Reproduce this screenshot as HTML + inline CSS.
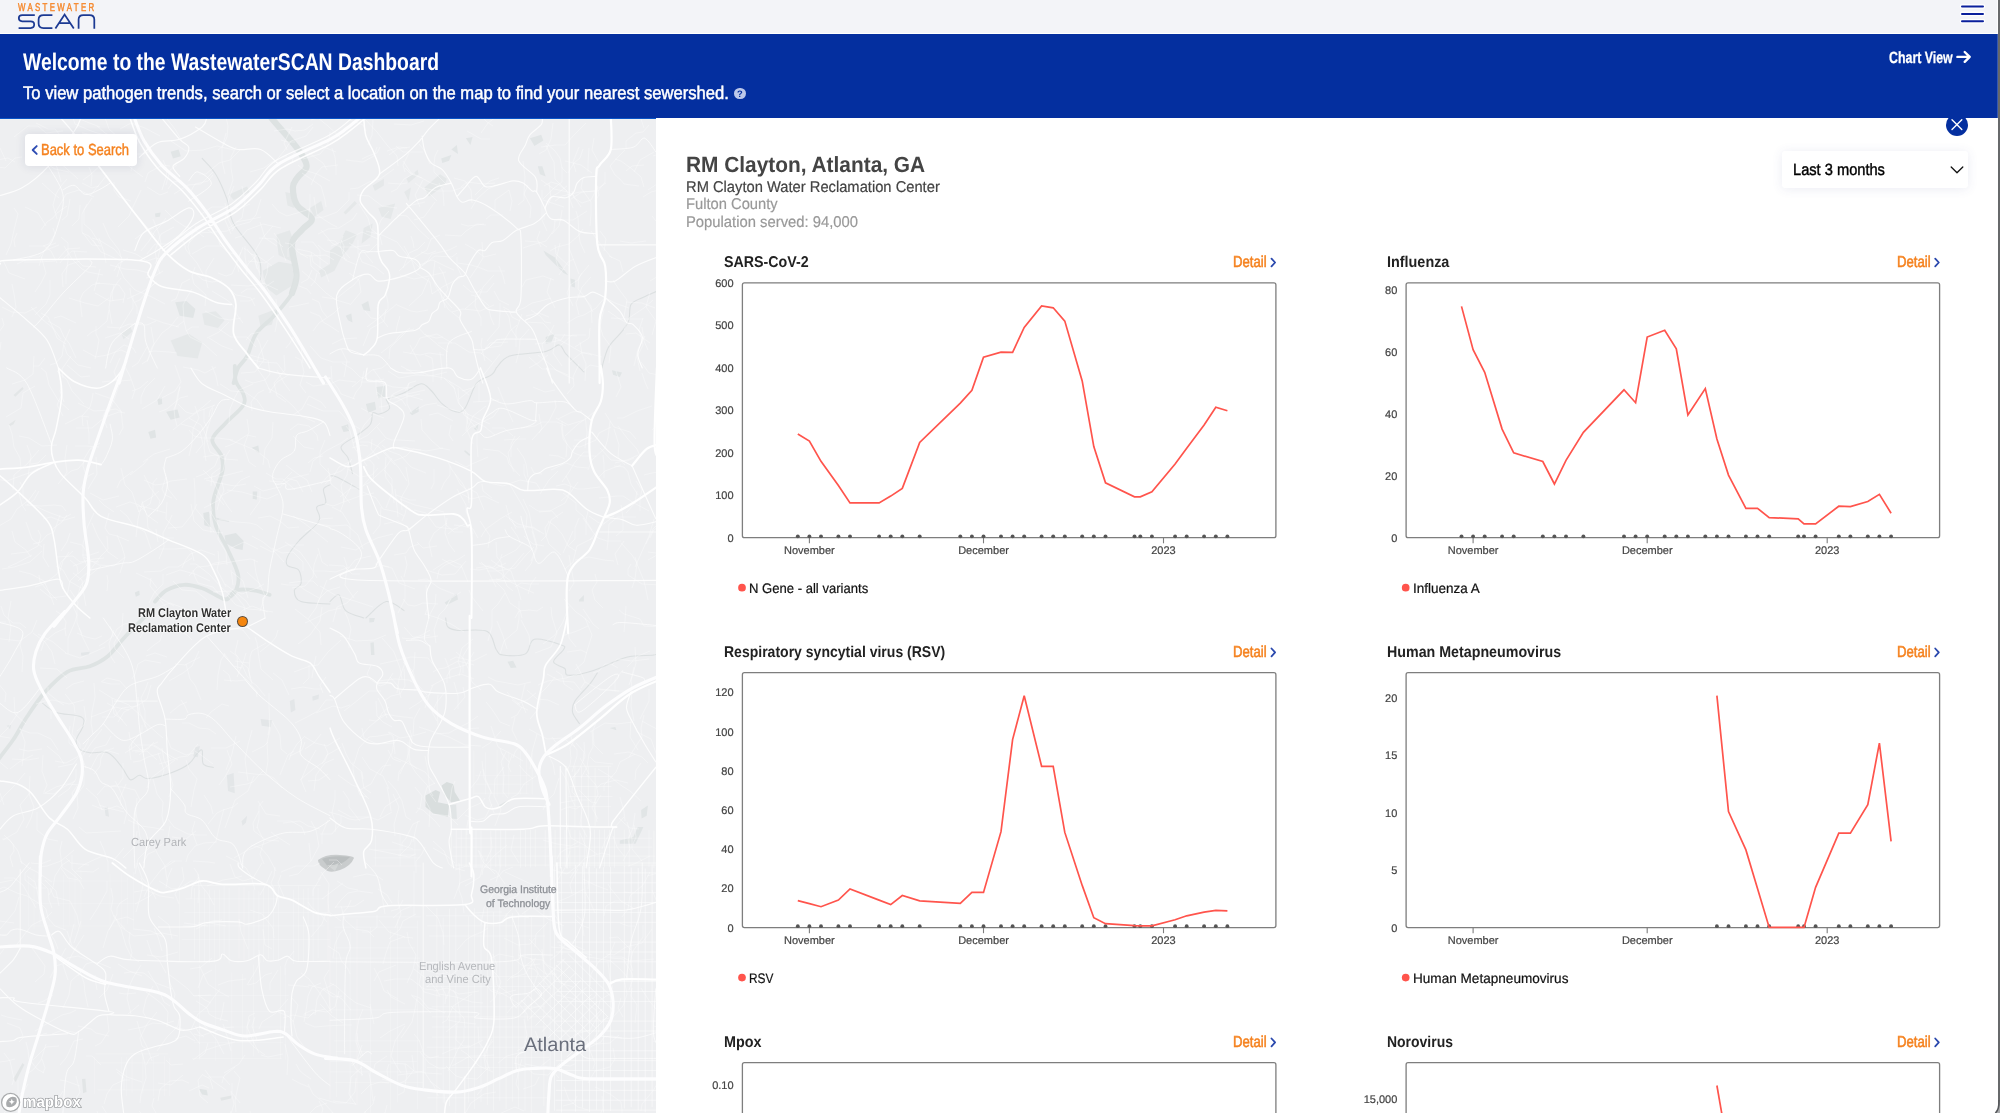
<!DOCTYPE html>
<html lang="en">
<head>
<meta charset="utf-8">
<title>WastewaterSCAN Dashboard</title>
<style>
html,body{margin:0;padding:0;}
body{width:2000px;height:1113px;overflow:hidden;position:relative;background:#fff;font-family:"Liberation Sans",sans-serif;text-rendering:geometricPrecision;}
.t{position:absolute;white-space:nowrap;line-height:1;transform-origin:0 50%;display:block;}
#root{position:absolute;left:0;top:0;width:2000px;height:1113px;overflow:hidden;will-change:transform;opacity:.9999;}
.abs{position:absolute;}
svg{position:absolute;left:0;top:0;overflow:visible;}
</style>
</head>
<body>
<div id="root">
<div class="abs" style="left:0;top:118px;width:656px;height:995px;background:#eeeff1;"></div>
<svg width="656" height="1113" viewBox="0 0 656 1113" style="clip-path:inset(119px 0 0 0)"><path d="M229.1 194.4 L247.1 186.5 L249.4 192.1 L233.6 200.0Z" fill="#e5e8e9"/>
<path d="M276.3 234.8 L289.8 230.3 L294.3 243.8 L292.0 261.8 L278.6 255.0Z" fill="#e5e8e9"/>
<path d="M262.8 270.8 L278.6 261.8 L292.0 264.0 L294.3 284.2 L276.3 295.5 L265.1 286.5Z" fill="#e5e8e9"/>
<path d="M285.3 192.1 L296.5 194.4 L294.3 207.9 L287.5 205.6Z" fill="#e5e8e9"/>
<path d="M310.0 207.9 L321.2 201.1 L323.5 210.1 L314.5 216.8Z" fill="#e5e8e9"/>
<path d="M319.0 270.8 L330.0 264.0 L330.0 273.0 L321.2 277.5Z" fill="#e5e8e9"/>
<path d="M170.7 340.4 L188.7 333.7 L202.2 342.6 L197.7 358.4 L177.5 356.1Z" fill="#e5e8e9"/>
<path d="M175.2 302.2 L186.5 301.1 L195.4 308.9 L193.2 317.9 L179.7 315.7Z" fill="#e1e5e6"/>
<path d="M202.2 313.4 L215.7 311.2 L224.6 320.2 L217.9 328.0 L204.4 324.7Z" fill="#e5e8e9"/>
<path d="M170.7 151.7 L178.6 149.5 L180.8 156.2 L173.0 158.4Z" fill="#e1e5e6"/>
<path d="M155.0 213.5 L160.6 212.4 L159.9 216.8 L155.5 217.3Z" fill="#e1e5e6"/>
<path d="M258.3 315.7 L276.3 308.9 L271.8 324.7 L260.6 326.9Z" fill="#e5e8e9"/>
<path d="M121.3 333.7 L130.3 326.9 L132.5 331.4 L123.6 339.3Z" fill="#e5e8e9"/>
<path d="M330.0 250.5 L339.0 243.8 L345.7 230.3 L357.0 234.8 L352.5 243.8 L341.2 257.3 L334.5 270.8 L330.0 273.0Z" fill="#e5e8e9"/>
<path d="M363.7 228.1 L372.7 223.6 L370.4 237.1 L361.5 243.8Z" fill="#e5e8e9"/>
<path d="M378.3 207.9 L395.1 203.4 L390.7 219.1 L381.7 216.8Z" fill="#e5e8e9"/>
<path d="M404.1 192.1 L410.9 187.6 L408.6 201.1Z" fill="#e5e8e9"/>
<path d="M424.4 187.6 L440.1 174.2 L446.8 178.7 L444.6 185.4 L428.8 196.6Z" fill="#e5e8e9"/>
<path d="M343.5 212.4 L354.7 201.1 L357.0 203.4 L345.7 214.6Z" fill="#e5e8e9"/>
<path d="M372.7 185.4 L383.9 178.7 L383.9 185.4 L374.9 191.0Z" fill="#e5e8e9"/>
<path d="M406.4 178.7 L417.6 169.7 L418.7 174.2 L408.6 183.1Z" fill="#e5e8e9"/>
<path d="M529.9 138.2 L541.2 134.8 L543.4 140.5 L534.4 146.1Z" fill="#e1e5e6"/>
<path d="M537.8 166.3 L542.3 166.3 L545.7 176.4 L540.0 174.2Z" fill="#e1e5e6"/>
<path d="M441.2 158.4 L451.3 155.1 L449.1 160.7 L442.3 162.9Z" fill="#e1e5e6"/>
<path d="M451.3 149.5 L456.9 145.0 L458.0 153.9Z" fill="#e1e5e6"/>
<path d="M465.9 138.2 L472.6 137.1 L470.4 145.0Z" fill="#e1e5e6"/>
<path d="M543.4 250.5 L554.6 257.3 L568.1 275.3 L563.6 273.0 L545.7 255.0Z" fill="#e1e5e6"/>
<path d="M361.5 304.5 L368.2 301.1 L370.4 311.2 L363.7 310.1Z" fill="#e1e5e6"/>
<path d="M345.7 315.7 L351.3 313.4 L352.5 322.4 L348.0 320.2Z" fill="#e1e5e6"/>
<path d="M545.7 337.0 L554.6 333.7 L551.3 342.6 L545.7 343.8Z" fill="#e1e5e6"/>
<path d="M570.4 278.6 L574.9 279.7 L574.9 287.6 L571.5 286.5Z" fill="#e1e5e6"/>
<path d="M166.2 411.8 L177.5 409.6 L179.7 417.4 L170.7 419.7Z" fill="#e0e4e5"/>
<path d="M148.3 432.0 L155.0 429.8 L156.1 437.6 L150.5 438.8Z" fill="#e0e4e5"/>
<path d="M224.6 535.4 L235.9 533.1 L243.7 541.0 L242.6 550.0 L235.9 548.8 L225.8 543.2Z" fill="#e0e4e5"/>
<path d="M203.3 512.9 L208.9 511.8 L211.2 527.5 L204.4 525.3Z" fill="#e0e4e5"/>
<path d="M157.3 399.5 L161.7 397.2 L162.2 403.9 L158.4 405.1Z" fill="#e0e4e5"/>
<path d="M251.6 447.7 L258.3 445.5 L259.5 453.4Z" fill="#e0e4e5"/>
<path d="M134.8 592.6 L139.3 590.4 L139.7 594.9 L135.9 596.7Z" fill="#e0e4e5"/>
<path d="M252.7 491.6 L257.2 491.6 L256.8 499.4 L252.7 499.0Z" fill="#e0e4e5"/>
<path d="M215.7 517.4 L229.1 520.8 L229.1 522.1 L216.8 519.6Z" fill="#e0e4e5"/>
<path d="M9.0 424.2 L15.7 419.7 L13.5 424.2 L10.1 426.0Z" fill="#e3e6e7"/>
<path d="M13.5 395.0 L22.5 387.1 L23.6 388.7 L15.3 396.8Z" fill="#e3e6e7"/>
<path d="M376.1 387.1 L385.0 386.0 L385.0 397.2 L378.3 398.3Z" fill="#e1e5e6"/>
<path d="M365.9 403.9 L374.9 401.7 L376.1 409.6 L368.2 412.9Z" fill="#e1e5e6"/>
<path d="M341.2 426.4 L348.0 424.2 L349.1 430.9 L343.5 432.0Z" fill="#e1e5e6"/>
<path d="M409.7 412.9 L418.7 406.2 L418.7 411.8 L412.0 415.2Z" fill="#e1e5e6"/>
<path d="M473.8 428.7 L478.3 424.2 L477.1 430.9Z" fill="#e1e5e6"/>
<path d="M464.8 450.0 L470.4 454.5 L469.3 456.1 L464.3 451.6Z" fill="#e1e5e6"/>
<path d="M611.9 370.2 L622.0 372.5 L619.8 377.0 L613.1 374.7Z" fill="#e1e5e6"/>
<path d="M579.4 599.4 L583.8 594.9 L583.8 601.6 L578.9 601.6Z" fill="#e1e5e6"/>
<path d="M444.6 602.8 L456.9 593.8 L458.0 599.4 L446.8 605.0Z" fill="#e1e5e6"/>
<path d="M226.9 775.3 L233.6 773.0 L234.8 793.2 L228.0 791.0Z" fill="#e3e6e8"/>
<path d="M195.4 747.2 L199.9 746.0 L197.7 757.3 L193.2 756.2Z" fill="#e3e6e8"/>
<path d="M260.6 719.1 L271.8 720.2 L270.7 727.0 L261.7 725.8Z" fill="#e3e6e8"/>
<path d="M80.9 652.8 L89.9 651.7 L88.7 655.1 L81.3 655.7Z" fill="#e3e6e8"/>
<path d="M241.5 821.3 L247.1 815.7 L246.0 822.4 L242.6 825.8Z" fill="#e3e6e8"/>
<path d="M104.5 807.8 L107.8 806.7 L109.0 816.8 L105.6 815.7Z" fill="#e3e6e8"/>
<path d="M289.8 701.1 L294.3 698.9 L295.4 710.1 L290.9 712.4Z" fill="#e3e6e8"/>
<path d="M312.3 696.6 L319.0 694.4 L318.5 698.9 L312.7 700.7Z" fill="#e3e6e8"/>
<path d="M6.7 725.8 L11.2 724.7 L10.1 729.2Z" fill="#e3e6e8"/>
<path d="M425.5 795.5 L435.6 789.9 L440.1 792.1 L437.8 802.2 L449.1 804.5 L447.9 816.8 L433.3 813.4 L425.5 806.7Z" fill="#d9dede"/>
<path d="M441.6 785.4 L446.8 782.0 L453.6 784.2 L454.7 792.1 L460.3 801.1 L451.3 802.2 L444.6 795.5Z" fill="#d9dede"/>
<path d="M450.2 804.9 L456.2 804.5 L456.9 819.1 L450.6 818.6Z" fill="#e1e5e6"/>
<path d="M507.5 661.8 L513.1 660.7 L516.5 667.4 L510.8 667.9Z" fill="#e1e5e6"/>
<path d="M641.1 810.1 L647.9 805.6 L646.7 815.7 L641.6 818.4Z" fill="#e1e5e6"/>
<path d="M619.8 840.4 L633.3 837.0 L637.8 826.9 L643.4 826.9 L635.5 843.8 L619.8 843.8Z" fill="#e1e5e6"/>
<path d="M370.4 642.7 L373.8 642.3 L374.5 655.1 L371.1 655.1Z" fill="#e1e5e6"/>
<path d="M498.5 805.6 L507.5 800.4 L508.6 802.2 L500.7 807.8Z" fill="#e1e5e6"/>
<path d="M369.3 618.0 L374.9 618.0 L373.8 622.0 L369.3 622.5Z" fill="#e1e5e6"/>
<path d="M609.7 728.1 L615.3 727.0 L616.4 730.3Z" fill="#e1e5e6"/>
<path d="M318 860q8-6 22-5t14 3q-3 8-14 12t-15-1q-7-4-7-9z" fill="#c9cccd"/>
<path d="M322 859q10-4 28-2q-6 6-14 9t-10-2z" fill="#b4b9ba" opacity=".75"/>
<path d="M327 865q6 1 12-2l-4 8z" fill="#d7dada" opacity=".8"/>
<path d="M13.5 1078.7 L22.5 1062.9 L24.3 1064.7 L15.7 1082.0Z" fill="#e2e5e6"/>
<path d="M82.0 1079.1 L85.4 1078.7 L86.5 1092.1 L83.1 1093.3Z" fill="#e2e5e6"/>
<path d="M198.8 1088.8 L206.7 1089.9 L207.8 1095.5 L202.2 1094.4Z" fill="#e0e4e5"/>
<path d="M220.2 1097.8 L231.4 1095.5 L230.9 1098.4 L221.3 1100.7Z" fill="#e2e5e6"/>
<path d="M269.6 114.6C270.1 115.5 268.6 114.6 272.7 119.6C276.8 124.6 289.1 138.1 294.3 144.5C299.4 150.9 301.7 154.2 303.7 158.0C305.7 161.8 307.5 164.1 306.4 167.4C305.3 170.8 299.2 174.8 297.0 178.2C294.7 181.6 292.9 183.1 292.9 187.6C292.9 192.1 293.8 200.0 297.0 205.2C300.1 210.3 310.9 214.6 311.8 218.6C312.7 222.7 305.7 225.2 302.4 229.4C299.1 233.6 293.0 236.2 292.0 243.8C291.1 251.4 296.5 267.0 296.5 275.3C296.5 283.5 292.8 290.2 292.0 293.2" fill="none" stroke="#dde2e2" stroke-width="6.2" stroke-opacity="1.0" stroke-linejoin="round" stroke-linecap="round"/>
<path d="M296.5 275.3C295.8 278.2 295.8 286.5 292.0 293.2C288.3 300.0 280.1 308.9 274.1 315.7C268.1 322.4 260.6 326.9 256.1 333.7C251.6 340.4 250.1 350.4 247.1 356.1C244.1 361.9 240.4 363.5 238.1 368.0C235.9 372.5 234.4 380.6 233.6 383.1M234.8 365.8C234.9 368.4 234.4 376.6 235.9 381.5C237.4 386.3 242.6 390.8 243.7 395.0C244.9 399.1 245.8 401.3 242.6 406.2C239.4 411.1 229.7 418.5 224.6 424.2C219.6 429.8 212.8 434.6 212.3 439.9C211.7 445.1 219.6 450.4 221.3 455.6C223.0 460.9 223.7 463.8 222.4 471.3C221.1 478.8 214.5 491.6 213.4 500.5C212.3 509.5 213.4 517.4 215.7 525.3C217.9 533.1 223.1 539.5 226.9 547.7C230.6 556.0 236.6 567.6 238.1 574.7C239.6 581.8 237.7 586.3 235.9 590.4C234.0 594.5 228.4 597.9 226.9 599.4M155.0 601.6C156.9 599.8 161.4 593.2 166.2 590.4C171.1 587.6 178.2 585.2 184.2 584.8C190.2 584.4 196.9 586.5 202.2 588.2C207.4 589.8 211.5 593.0 215.7 594.9C219.8 596.8 223.5 600.1 226.9 599.4C230.3 598.6 231.4 591.9 235.9 590.4C240.4 588.9 248.2 589.6 253.8 590.4C259.5 591.1 267.0 594.1 269.6 594.9M148.3 613.5C144.5 617.3 132.5 628.9 125.8 636.0C119.1 643.1 113.8 651.1 107.8 656.2C101.8 661.2 96.6 663.7 89.9 666.3C83.1 668.9 74.9 667.6 67.4 671.9C59.9 676.2 51.7 684.6 44.9 692.1C38.2 699.6 32.2 709.0 27.0 716.8C21.7 724.7 18.0 732.6 13.5 739.3C9.0 746.0 3.0 753.2 0.0 757.3C-3.0 761.4 -3.7 762.9 -4.5 764.0" fill="none" stroke="#dee3e3" stroke-width="3.8" stroke-opacity="1.0" stroke-linejoin="round" stroke-linecap="round"/>
<path d="M202.2 158.4C204.4 161.1 211.5 167.4 215.7 174.2C219.8 180.9 223.9 190.6 226.9 198.9C229.9 207.1 228.4 213.8 233.6 223.6C238.9 233.3 253.8 247.9 258.3 257.3C262.8 266.6 260.2 276.0 260.6 279.7M496.2 368.0C498.5 366.0 501.5 358.9 509.7 356.1C518.0 353.4 537.4 353.5 545.7 351.6C553.9 349.8 555.8 344.5 559.1 344.9C562.5 345.3 562.9 350.5 565.9 353.9C568.9 357.2 574.1 362.1 577.1 365.1C580.1 368.1 582.7 370.7 583.8 371.8M660.0 289.9C657.0 291.2 647.1 295.3 642.3 297.7C637.4 300.1 633.3 300.7 631.0 304.5C628.8 308.2 630.3 315.7 628.8 320.2C627.3 324.7 625.4 326.9 622.0 331.4C618.7 335.9 611.9 341.0 608.6 347.1C605.2 353.2 602.9 364.5 601.8 368.0M330.0 484.8C328.9 485.6 324.2 486.3 323.5 489.3C322.8 492.3 326.9 499.8 325.7 502.8C324.6 505.8 317.9 504.3 316.7 507.3C315.6 510.3 322.0 515.1 319.0 520.8C316.0 526.4 304.0 535.0 298.8 541.0C293.5 547.0 289.4 552.6 287.5 556.7C285.7 560.8 285.7 563.4 287.5 565.7C289.4 567.9 296.5 567.2 298.8 570.2C301.0 573.2 301.8 580.3 301.0 583.7C300.3 587.0 294.3 587.4 294.3 590.4C294.3 593.4 295.1 599.4 301.0 601.6C307.0 603.9 325.2 603.5 330.0 603.9M386.2 399.5C389.2 398.3 398.3 395.3 404.1 392.7C409.9 390.1 416.5 384.1 421.0 383.7C425.5 383.4 427.5 387.1 431.1 390.5C434.6 393.8 438.2 400.4 442.3 403.9C446.4 407.5 452.1 411.1 455.8 411.8C459.5 412.6 461.8 412.4 464.8 408.4C467.8 404.5 471.5 392.7 473.8 388.2C476.0 383.7 475.3 383.7 478.3 381.5C481.3 379.2 488.7 377.0 491.7 374.7C494.7 372.5 495.5 369.1 496.2 368.0M330.0 475.8C331.1 476.0 331.9 474.7 336.7 477.0C341.6 479.2 355.5 487.2 359.2 489.3M386.2 399.5C386.7 400.9 390.7 406.0 389.5 408.4C388.4 410.9 382.2 413.3 379.4 414.1C376.6 414.8 374.2 411.2 372.7 412.9C371.2 414.6 373.1 420.4 370.4 424.2C367.8 427.9 361.8 431.6 357.0 435.4C352.1 439.1 342.7 442.9 341.2 446.6C339.7 450.4 346.1 453.4 348.0 457.9C349.8 462.4 351.7 471.0 352.5 473.6M330.0 601.6C331.5 600.5 336.4 593.4 339.0 594.9C341.6 596.4 341.6 606.8 345.7 610.6C349.8 614.5 360.7 616.8 363.7 618.0M365.9 618.0C369.3 615.3 379.8 602.9 386.2 601.6C392.5 600.4 401.1 609.1 404.1 610.6M42.7 703.4C44.9 704.9 49.8 710.1 56.2 712.4C62.5 714.6 76.4 714.6 80.9 716.8C85.4 719.1 83.9 722.1 83.1 725.8C82.4 729.6 77.1 735.6 76.4 739.3C75.6 743.1 76.4 746.0 78.6 748.3C80.9 750.5 85.0 752.0 89.9 752.8C94.7 753.5 102.6 750.5 107.8 752.8C113.1 755.0 117.6 761.8 121.3 766.3C125.1 770.8 127.3 778.2 130.3 779.7C133.3 781.2 136.3 775.4 139.3 775.3C142.3 775.1 143.0 779.0 148.3 778.6C153.5 778.2 164.0 775.4 170.7 773.0C177.5 770.6 184.2 767.4 188.7 764.0C193.2 760.6 195.4 755.0 197.7 752.8C199.9 750.5 201.2 748.7 202.2 750.5C203.1 752.4 201.4 761.2 203.3 764.0C205.2 766.8 211.7 766.8 213.4 767.4M445.7 618.0C446.1 619.5 445.9 624.9 447.9 627.0C450.0 629.0 451.5 629.6 458.0 630.4C464.6 631.1 480.9 628.3 487.3 631.5C493.6 634.7 493.6 645.5 496.2 649.5C498.9 653.4 498.1 654.3 503.0 655.1C507.8 655.8 520.2 656.6 525.4 653.9C530.7 651.3 528.4 640.8 534.4 639.3C540.4 637.8 556.5 643.3 561.4 645.0C566.2 646.6 564.9 646.6 563.6 649.5C562.3 652.3 553.3 658.6 553.5 661.8C553.7 665.0 562.3 666.3 564.8 668.5C567.2 670.8 563.4 674.9 568.1 675.3C572.8 675.7 583.1 673.8 592.8 670.8C602.6 667.8 616.4 659.9 626.5 657.3C636.6 654.7 647.9 656.0 653.5 655.1C659.1 654.1 658.9 652.3 660.0 651.7M597.3 673.0C596.2 674.7 594.3 678.5 590.6 683.1C586.8 687.8 577.9 696.3 574.9 701.1C571.9 706.0 571.9 708.6 572.6 712.4C573.4 716.1 578.2 721.7 579.4 723.6" fill="none" stroke="#d9dedf" stroke-width="1.05" stroke-opacity="0.9" stroke-linejoin="round" stroke-linecap="round"/>
<path d="M554.6 866.4V1110.7M561.6 866.9V1112.6M575.5 864.6V1111.6M582.5 865.9V1107.8M589.5 867.0V1112.1M596.4 868.4V1109.8M603.4 867.2V1112.6M610.4 866.7V1111.1M624.3 866.0V1108.5M631.2 867.5V1107.3M638.2 868.0V1110.2M645.2 868.5V1112.4M652.1 864.4V1107.0M659.1 866.9V1111.1M555.7 863.0H659.1M556.2 872.9H657.6M557.1 882.8H657.7M556.4 892.7H659.6M557.2 902.5H657.6M556.5 912.4H659.4M556.2 922.3H659.3M557.3 942.1H659.8M555.7 952.0H659.6M556.7 961.8H657.7M554.8 981.6H658.1M557.0 991.5H657.4M557.3 1001.4H659.2M554.7 1021.1H659.5M556.3 1031.0H659.6M555.5 1050.8H657.5M555.6 1060.7H658.8M556.3 1070.6H658.4M556.3 1080.5H657.5M555.8 1090.3H658.1M555.4 1100.2H657.4M556.1 1110.1H660.0" stroke="#fff" stroke-width="0.9" stroke-opacity="0.55" fill="none"/>
<path d="M436.9 907.7V1112.2M443.2 917.6V1102.7M449.5 908.6V1106.1M455.8 907.9V1111.7M468.4 916.4V1102.6M474.7 908.2V1109.0M481.0 915.2V1102.0M487.3 906.8V1105.2M493.5 912.2V1110.7M499.8 906.8V1100.9M506.1 912.8V1109.1M512.4 913.1V1101.6M518.7 912.3V1107.7M525.0 911.3V1110.9M531.3 916.2V1112.5M543.9 909.3V1106.1M550.2 910.1V1100.1M426.0 915.8H547.3M427.2 925.9H546.4M428.8 936.0H545.2M429.3 976.4H550.5M425.8 986.6H548.7M431.5 1006.8H544.8M432.0 1016.9H552.3M432.1 1027.0H546.2M431.9 1037.1H547.4M426.7 1047.2H550.9M425.4 1057.3H549.3M427.0 1067.4H552.3M427.3 1097.8H550.1" stroke="#fff" stroke-width="0.8" stroke-opacity="0.38" fill="none"/>
<path d="M330.0 929.6V1099.4M336.7 929.6V1097.2M350.2 933.1V1101.9M357.0 918.9V1105.0M370.4 926.8V1112.8M390.7 930.1V1110.3M397.4 919.3V1102.4M417.6 920.5V1109.3M337.1 916.9H420.9M334.4 927.2H417.7M335.6 947.9H415.3M332.4 958.2H420.3M330.0 1009.9H417.7M333.9 1040.9H420.7M335.7 1051.3H422.8M330.2 1061.6H417.1M330.1 1071.9H416.8M334.7 1082.3H423.2" stroke="#fff" stroke-width="0.8" stroke-opacity="0.3" fill="none"/>
<path d="M179.7 890.3V961.2M194.5 888.2V959.6M199.5 890.0V962.5M204.4 889.8V961.6M209.4 889.5V963.0M214.3 890.2V962.5M219.3 889.5V959.1M224.2 886.0V959.4M229.1 888.1V963.5M239.0 887.2V958.5M244.0 886.6V960.2M248.9 891.0V958.7M253.8 889.3V960.0M258.8 891.2V963.9M263.7 889.0V962.3M268.7 886.0V958.9M273.6 886.2V960.2M278.6 886.6V961.2M293.4 889.6V964.0M298.3 885.6V962.1M303.3 889.1V962.3M308.2 887.8V963.3M313.2 885.8V961.6M318.1 887.8V958.3M328.0 890.7V960.1M184.8 885.5H320.6M185.5 898.9H324.7M184.3 912.4H329.0M182.7 925.9H324.5M181.7 939.4H329.8" stroke="#fff" stroke-width="0.8" stroke-opacity="0.3" fill="none"/>
<path d="M199.5 964.8V1059.8M215.7 964.5V1060.8M231.8 972.4V1063.9M242.6 973.7V1059.3M253.4 964.6V1056.5M280.4 965.9V1059.3M285.7 967.9V1059.6M193.1 995.5H288.8M193.4 1011.3H288.9M195.9 1027.0H289.5M194.1 1042.7H283.0M191.7 1058.4H281.9" stroke="#fff" stroke-width="0.8" stroke-opacity="0.26" fill="none"/>
<path d="M451.3 830.6V867.8M456.2 829.3V867.7M461.2 829.5V867.1M466.1 829.8V867.3M471.1 830.4V867.9M476.0 829.2V867.6M481.0 830.5V867.5M490.8 830.6V867.9M495.8 829.7V867.1M500.7 830.2V867.3M505.7 830.5V867.2M520.5 829.9V867.7M525.4 830.0V867.0M530.4 829.6V867.5M535.3 829.4V866.9M545.2 830.2V866.6M550.2 829.9V867.7M555.1 829.9V867.3M565.0 829.9V867.0M569.9 829.5V868.0M574.9 829.6V867.4M579.8 830.4V866.7M584.7 829.7V867.8M589.7 830.6V867.7M594.6 829.6V868.0M599.6 829.7V867.8M604.5 829.5V867.4M609.5 829.8V867.2M614.4 829.3V867.9M624.3 829.7V866.9M629.2 830.2V866.6M649.0 830.0V866.9M653.9 830.6V868.0M658.9 829.5V866.8M457.3 838.2H652.2M452.7 847.1H652.4M452.0 856.1H655.3M455.0 865.1H658.8" stroke="#fff" stroke-width="0.8" stroke-opacity="0.42" fill="none"/>
<path d="M568.1 767.4V828.7M574.9 766.3V827.6M581.6 766.5V827.4M588.3 766.4V828.0M595.1 767.7V826.9M608.6 766.6V827.6M569.4 766.3H611.3M569.8 776.4H612.8M569.6 786.5H611.4M568.3 796.6H612.5M568.8 806.7H611.2M570.1 826.9H612.9" stroke="#fff" stroke-width="0.8" stroke-opacity="0.4" fill="none"/>
<path d="M473.8 750.4V794.9M485.5 752.4V794.5M497.1 749.9V796.5M503.0 753.2V797.5M508.8 751.3V795.8M520.5 750.6V794.3M526.3 749.0V793.9M532.2 753.1V794.7M475.5 775.3H530.0M475.6 784.2H529.0M474.2 793.2H528.8" stroke="#fff" stroke-width="0.8" stroke-opacity="0.28" fill="none"/>
<path d="M28.3 876.7V926.9M34.1 874.2V929.0M40.0 874.5V924.4M63.3 875.0V930.1M69.2 877.1V925.4M75.0 870.9V930.3M80.9 870.2V929.0M110.1 873.7V925.5M121.8 873.2V928.3M127.6 877.3V924.0M133.4 872.1V928.7M28.3 881.0H126.9M34.8 903.4H139.3M29.3 925.9H125.0" stroke="#fff" stroke-width="0.8" stroke-opacity="0.22" fill="none"/>
<path d="M94.4 1056.8V1093.8M121.3 1056.9V1094.1M126.7 1056.8V1096.0M132.1 1054.6V1092.8M142.9 1054.3V1093.7M153.7 1057.5V1096.5M164.4 1056.1V1096.2M169.8 1058.0V1096.1M95.4 1053.9H168.3M95.6 1062.9H165.4M97.4 1089.9H167.5" stroke="#fff" stroke-width="0.8" stroke-opacity="0.25" fill="none"/>
<path d="M375.4 835.4V865.8M400.1 834.0V866.7M414.9 835.8V866.5M373.7 849.8H421.1M373.4 857.9H420.5M371.5 866.0H420.9" stroke="#fff" stroke-width="0.8" stroke-opacity="0.3" fill="none"/>
<path d="M516.5 1006.8L564.8 958.5M522.7 1013.1L570.1 965.7M529.0 1019.4L575.5 972.9M535.3 1025.6L580.9 980.0M541.6 1031.9L586.3 987.2M547.9 1038.2L591.7 994.4M554.2 1044.5L597.1 1001.6M560.5 1050.8L602.5 1008.8M566.8 1057.1L607.9 1016.0M520.9 1000.0L572.6 1051.7M526.8 994.2L578.5 1045.9M532.6 988.4L584.3 1040.0M538.5 982.5L590.1 1034.2M544.3 976.7L596.0 1028.3M550.2 970.8L601.8 1022.5M556.0 965.0L607.7 1016.7M561.8 959.1L613.1 1010.4M567.7 953.3L613.1 998.7" stroke="#fff" stroke-width=".9" stroke-opacity=".55" fill="none"/>
<path d="M419 144L424 150L430 164M387 151L399 147L407 148M357 338L342 339L332 344M141 878L143 885L140 898L136 912M638 495L631 484L628 472L624 467L614 466M153 219L159 234L161 244L158 258L155 264M350 362L333 362L321 358L310 346M150 151L144 154L131 154L123 154M580 758L585 766L589 774M589 516L599 523L605 523M412 906L402 910L393 918M363 1056L358 1043L357 1033M73 551L61 562L57 574L44 584L35 587M399 271L412 259L427 250L431 239L440 235M529 357L542 369L554 369L567 376L574 379M361 382L378 382L393 387L407 388M441 490L444 483L450 475L450 466M47 746L59 756L64 764M141 251L149 241L155 231L160 226L166 218M567 173L562 168L560 158L555 151L546 143M183 367L198 370L205 373L216 367M61 868L68 878L79 880L84 889M174 898L160 896L146 890L134 892M143 177L131 168L121 159M559 275L568 262L574 259M265 1055L254 1047L247 1039L247 1027L250 1019M157 512L160 501L150 487L144 475M66 653L53 642L38 634M103 948L108 931L115 920L127 917L134 920M173 1003L175 994L169 981M416 381L409 383L405 391M506 752L501 762L504 775L503 792L508 798M242 668L233 666L224 653M590 328L589 338L575 347M492 1039L484 1055L490 1070M483 449L499 451L507 457L509 464L520 476M536 577L531 584L528 594M46 888L35 888L25 880L25 873L31 867M174 227L161 234L155 251L158 268L160 274M341 921L329 912L328 901L329 884L321 872M590 623L582 616L576 612L564 599M592 731L593 747L589 754L587 767L581 778M335 908L340 901L348 893L358 891L373 893M147 317L164 323L179 327M581 691L574 682L560 681L547 674M70 542L82 545L87 552L88 564L78 574M391 1063L406 1064L414 1071L426 1073L442 1074M493 954L497 965L496 976L497 985L511 995M99 500L104 505L114 512M136 537L138 519L142 503L152 497L159 491M585 950L573 945L565 945L558 954L550 960M265 283L248 286L231 285M435 202L430 209L424 217L414 220M183 1064L171 1065L166 1060M147 187L160 195L168 192M100 244L91 230L84 224L84 210L92 198M107 428L103 416L108 407L113 400M545 360L542 344L547 339L554 325M281 487L275 488L263 491L254 486M302 271L315 282L326 293L336 300L350 304M559 945L567 949L580 952L583 957M119 330L124 322L133 308L133 295M158 523L147 515L142 504M61 339L53 328L43 320L31 307M231 570L232 577L233 585M500 303L500 312L499 327L487 341M194 478L195 490L195 508L204 519L214 532M573 690L564 684L562 675L556 671M323 693L320 685L326 677M78 879L71 873L62 867L60 850L62 841M400 855L410 845L412 839M362 275L354 285L347 290L336 299L322 297M517 740L512 730L515 717M542 190L542 203L542 220L547 231M264 390L258 393L251 402L252 411M631 950L618 937L609 938M496 587L492 579L486 567L481 562M219 785L225 777L232 764L227 750M58 370L62 386L60 391L64 402M340 738L327 746L315 743L305 737M80 1086L66 1081L60 1080M147 955L161 957L178 952M463 532L454 532L446 525L444 513M567 394L574 386L573 377L579 364M380 775L386 764L392 753L394 742M124 812L108 808L99 805M599 498L617 496L623 496L634 503L649 511M345 573L355 560L362 558L371 556M261 199L256 215L250 222L235 226L232 231M414 1034L419 1040L424 1054L430 1058L439 1056M213 175L208 181L195 184L191 191M571 735L572 743L577 750L577 756L572 772M104 558L94 559L80 562L73 556L56 557M250 476L241 480L232 490L221 496L217 510M398 613L405 599L405 584L401 576M496 882L500 869L499 855M289 695L282 680L273 673M516 990L500 994L491 991L484 982L471 974M76 1076L80 1092L71 1107M528 483L524 474L524 464M172 498L165 495L162 489L166 477M145 182L148 173L155 169L163 165L170 166M89 570L83 557L83 544L87 528L94 513M616 397L621 387L616 371M450 660L456 657L473 661L487 654M139 755L151 745L158 742M45 880L56 891L59 906M391 395L402 400L406 406M86 475L83 466L84 459L90 449L100 443M337 227L331 224L317 215L315 204L314 197M263 801L259 806L259 819L257 828M360 442L369 442L379 447L384 453L395 465M568 546L575 539L575 528L579 518M246 271L248 264L256 256M244 248L254 256L257 267L263 283L278 290M189 430L194 436L202 438L218 438L233 440M530 959L543 960L547 965L561 972L567 978M203 457L215 455L223 456M20 861L29 868L37 872L52 882M579 274L574 261L569 248M290 391L284 383L277 370M346 426L350 431L354 447L363 460L367 466M283 247L274 239L259 238M565 161L581 165L592 173M274 233L279 240L282 251L286 261M69 552L63 561L60 571M110 626L113 634L109 643L111 657L115 663M114 271L118 264L128 258M498 565L511 571L514 580L518 589L521 600M522 707L517 715L511 718M50 978L56 966L68 962L75 949L84 935M123 720L114 714L112 698M55 761L66 763L77 757L84 749L89 739M392 903L387 895L378 889M559 1078L552 1070L545 1067M635 813L633 828L628 839L630 849L623 861M654 1026L665 1030L675 1027L682 1032L694 1033M90 196L98 186L107 175M434 990L424 989L411 979L395 979L384 981M444 355L429 353L420 355L403 352M593 312L584 296L578 289L579 277L589 265M91 368L78 365L67 354L64 345M179 1019L178 1026L167 1037L157 1051M260 491L260 501L250 515M426 906L438 918L443 933L444 945M594 138L592 150L598 161M189 418L201 425L204 431L208 442M415 691L415 679L413 671L403 662M639 186L624 184L620 179L615 175L610 166M234 186L229 198L227 213L225 220L231 234M511 581L504 576L501 562L497 557L496 542M207 427L206 439L210 452L224 459L238 460M524 553L513 566L501 579L489 580M341 915L348 907L351 900M67 445L65 458L67 472L63 478M231 1111L229 1118L220 1124M446 1066L456 1076L463 1078L477 1079L489 1067M101 566L89 576L81 585L77 598M74 850L61 861L47 866L38 867M455 1112L462 1127L470 1141M58 797L69 789L76 779L76 769M465 815L477 820L485 818L492 804M363 486L370 482L375 477L386 467L392 458M377 244L369 252L359 253M512 755L508 766L511 772M100 283L92 285L83 293L80 300L82 317M410 730L412 738L411 745L407 759L400 774M541 147L556 145L565 145L574 135L586 123M421 419L422 430L432 441L440 448L450 450M565 436L578 424L587 418L594 412M175 365L181 382L175 391L160 399M613 836L617 847L624 856M15 1059L7 1061L0 1062M579 769L575 774L573 781L572 792L577 797M369 479L361 488L351 488L340 497M640 511L640 498L642 490L636 481M26 828L31 818L34 807L29 794L30 776M196 453L203 444L200 432L192 427L181 424M590 986L591 974L599 961L610 954L615 942M413 735L414 719L420 708M125 557L114 566L99 565L84 557M41 256L46 273L41 283L35 292M358 791L371 784L377 773L383 766L391 765M195 406L199 418L193 429L192 443L189 456M588 511L586 520L586 535M290 374L277 382L269 393M72 855L72 869L82 879M271 832L276 836L290 845M613 992L600 1000L598 1009M504 767L495 779L494 796L501 810L495 826M260 611L265 596L260 584L247 572M649 659L633 661L627 667M107 575L108 581L107 591M127 726L117 714L114 707L107 703M212 366L216 376L218 386M376 379L376 386L377 395M330 1009L329 994L324 978L329 970M314 571L325 571L336 572L349 567M162 869L171 861L182 861M74 943L78 931L81 921M76 323L61 316L54 318M273 680L261 669L259 658L257 643L255 637M42 1107L58 1099L63 1091M89 757L95 748L106 745L111 736M632 988L631 996L637 1005L635 1023M496 1092L484 1094L471 1103L466 1112L452 1122M74 924L72 932L69 945M441 986L446 995L445 1004M37 620L32 632L20 641L11 640L-7 638M271 393L264 378L256 367L259 355L268 340M515 436L511 444L511 457M148 971L157 986L164 1002L170 1006M133 762L140 761L148 757L161 753M573 306L567 293L570 285L578 280L582 273M486 861L492 848L491 837M211 400L203 407L193 414L186 412L178 404M600 487L584 489L577 489L565 484L556 486M151 685L147 699L140 704L124 712L118 722M522 287L526 280L543 276L554 280M49 932L55 941L58 949M6 622L-8 622L-24 617L-30 615L-39 621M474 652L466 665L451 669L447 676L447 683M345 929L340 933L335 944L333 958M543 199L554 188L562 182L562 175L562 167M285 899L278 883L281 875M454 682L458 696L458 709M118 964L129 971L142 976M50 280L50 295L46 304L35 315M51 860L41 864L31 863M626 513L635 503L637 491M363 492L376 498L383 509L397 512L404 516M416 854L409 857L398 855M67 206L57 213L53 218L47 222L41 230M191 504L194 521L203 530L214 532L223 533M42 551L30 562L14 567L2 569M300 254L310 256L326 255L334 260M564 1087L569 1100L578 1107L588 1110M482 748L490 743L501 731M611 318L626 319L643 319M465 555L459 559L445 565L439 570L437 579M278 494L267 499L256 496L242 492L227 490M587 653L581 650L567 652M402 679L400 668L394 652L390 647L382 638M381 691L369 691L358 700L344 711M194 1034L201 1036L212 1032L223 1028L234 1027M209 417L210 411L214 405M610 855L602 853L585 858L578 866L570 878M19 729L30 733L38 733L51 739L58 750M352 483L349 491L343 502M392 727L383 722L377 716L376 701M387 787L389 797L391 811M274 256L265 263L248 261M114 285L112 295L113 301M6 255L11 244L14 230L18 214L14 208M499 409L493 417L482 422L471 427L462 436M356 1104L341 1102L333 1101M483 769L486 780L492 794M652 890L657 902L658 917L664 922L672 925M39 468L32 472L23 475L7 481L-10 478M89 865L71 863L66 858M164 826L162 816L163 802L157 794L153 779M264 864L260 854L264 841L257 827M638 750L630 737L631 719M325 440L320 452L320 464L330 474L331 481M301 242L313 242L320 251L320 268M198 988L203 975L212 970M109 513L105 528L109 534L117 536L129 541M292 127L284 143L287 150M251 845L261 848L268 856L276 871M444 187L431 183L418 176L411 173L403 161M57 219L53 205L56 194L61 186L67 179M473 402L489 401L499 400M334 862L323 873L318 880M158 753L164 770L162 777M373 482L374 465L370 460L361 460M40 904L27 896L17 893L4 887L-3 890M52 1034L63 1030L77 1033M447 185L434 172L434 164L435 156L438 150M432 294L444 286L460 278M514 835L511 850L519 863M590 452L584 452L575 462L569 472L562 482M241 373L255 372L264 360L260 344L257 338M604 297L615 303L629 308M211 533L210 517L212 510L210 503M338 165L322 167L316 174L311 185M191 899L192 887L199 877M128 1014L134 1009L139 1005M417 808L423 810L435 821L440 827M156 608L170 603L186 609M341 816L341 823L336 829L332 834L320 834M155 378L145 388L141 397L141 404M512 700L521 707L528 710M505 568L499 566L491 560M396 333L397 326L400 316M444 378L459 387L469 395M62 220L67 216L70 199M540 489L536 483L520 480L503 486L489 483M60 961L62 955L66 948M539 512L550 511L565 503L570 493L578 482M425 615L427 609L427 601L426 585M414 916L414 901L414 888L414 871M255 298L249 301L240 301M309 474L292 478L281 486M535 1031L540 1043L535 1053M650 292L646 307L656 321L652 335M370 679L380 686L386 684L393 673M314 449L304 447L293 436M39 266L44 251L59 245M245 1055L239 1064L224 1073M287 754L281 749L280 735L272 721M386 293L388 303L388 309L379 318L367 327M119 435L123 428L121 411L112 399L95 393M581 207L573 195L568 192L554 189L541 180M32 555L17 563L8 567M67 596L70 581L78 573L77 566L70 560M224 1002L222 1014L220 1021M403 599L408 605L415 606L423 603L438 604M479 383L479 390L479 402M36 123L48 129L55 129L64 140L75 141M515 587L521 583L529 584L539 584M173 581L182 590L196 591L207 600M272 871L265 886L260 895M569 591L574 583L571 567L569 555M375 1096L373 1104L361 1116L356 1122M648 552L656 553L664 558L680 555L692 554M562 636L577 631L588 626M272 266L258 256L251 254M351 461L339 467L333 477L325 484M447 518L445 533L449 544L455 552M521 428L535 426L542 422L557 422L566 426M397 208L382 206L369 196L357 195M204 623L221 623L227 628L243 630L250 639M462 391L472 388L482 377L489 368L500 354M362 461L373 452L379 444L385 439M633 971L630 963L633 951L643 937L643 925M114 915L121 929L126 946L131 956L139 962M306 792L301 780L308 764L316 750M390 400L393 394L405 388L414 387M585 416L587 433L585 448M433 796L427 785L416 773L408 760L408 742M225 828L230 814L235 800L248 791L254 776M64 246L72 259L82 269L88 272L103 275M517 448L524 458L526 464L528 477M310 312L320 316L323 322L330 326L339 332M595 574L597 582L592 590L595 600L603 608M507 692L512 698L520 705M313 124L305 130L295 131L287 129L274 131M455 461L466 467L472 464L488 457M341 640L328 652L318 665L310 666L294 672M150 842L154 846L157 853L165 866L167 880M409 709L420 702L431 693M249 663L241 662L235 661M66 636L65 629L66 622L62 615L56 611M131 380L121 381L113 380M597 803L591 802L579 790M439 267L443 273L448 289L443 299L445 308M533 988L538 973L532 959L518 955M559 778L554 794L547 801L543 810M75 517L61 521L51 517L43 519M477 1095L484 1087L498 1079M119 496L103 500L90 493M317 604L320 598L327 591L340 587M378 681L395 679L409 680L419 686L427 695M421 267L425 262L433 260L447 267L454 270M158 1083L171 1085L183 1075M291 689L303 687L314 689L322 689M365 119L377 132L387 145L397 156L398 166M536 958L525 966L518 973L511 977L507 981M416 914L403 921L400 929L389 939M70 726L69 735L69 743L81 752M415 787L422 796L420 808L416 813M363 549L358 535L347 525L332 526L318 524M211 995L194 996L188 989L174 978L168 974M459 863L460 876L459 890L462 898L464 913M604 251L606 239L600 231M231 596L221 587L209 574L196 564L190 564M250 172L264 168L272 162L287 156M194 868L198 874L199 888L198 903M156 899L149 886L142 878L137 863M634 172L640 160L654 152M598 819L592 808L598 794L596 785L586 774M114 630L111 638L104 643L99 646M615 159L621 161L632 169L641 177L644 187M209 338L222 346L233 350M229 997L220 992L208 984L200 967M644 128L641 119L630 106L630 100M250 910L262 914L273 928L274 938M292 163L294 153L300 149M507 649L503 636L497 621M68 654L68 638L75 622L77 615L73 606M36 908L28 894L23 885L14 878L4 878M4 835L13 844L14 851L10 857L13 867M502 554L500 560L494 567L479 570L470 569M196 1001L207 1008L209 1014L216 1018L228 1021M359 204L368 218L371 229L380 236L382 245M127 299L142 292L157 282M361 408L368 412L384 418M440 352L442 369L441 380M201 700L195 685L190 679L186 664M420 394L406 397L396 402L386 406L379 407M552 973L554 981L553 994L541 1006L528 1009M380 884L382 896L385 914M509 483L516 495L522 505L527 515L526 529M529 729L536 733L547 739L563 738L575 747M27 876L35 882L37 890L39 900M298 165L304 170L317 174L330 181M374 493L360 496L349 500L333 506L323 503M319 598L305 590L298 585L288 585L281 584M536 776L524 784L518 794L511 798M15 162L8 158L-9 161M109 1036L96 1033L91 1029L78 1026M56 566L63 570L69 581L83 589M433 382L433 365L432 358L425 355M343 1023L332 1016L320 1004M576 647L569 638L568 625M588 889L589 878L588 864L586 847L580 833M528 1021L527 1014L520 1005L507 996L492 989M124 824L127 812L125 802L119 788L115 781M384 379L374 381L360 377L352 369L342 363M364 371L361 386L356 392L353 399M514 1063L524 1066L534 1074L548 1075L560 1063M60 263L64 258L72 251L87 252M263 771L258 776L253 782L247 784L230 787M128 898L120 903L117 908L117 914L109 930M232 512L228 507L219 493L212 479L203 470M535 344L552 342L561 340L565 334M193 1060L206 1050L218 1046L235 1042M505 872L518 878L533 885L541 887M517 338L511 329L509 317L504 309M262 863L253 878L243 881L235 877L230 864M327 317L322 311L319 302L312 299M604 791L604 785L616 772L620 762L635 754M377 392L384 398L397 396L412 393L425 390M258 801L266 814L280 816M138 697L140 713L144 721L157 733L163 738M275 867L274 876L271 883L275 891M177 353L169 352L154 351L148 352M88 1007L85 993L84 983L80 971L67 964M534 593L520 587L511 582L496 579M270 468L268 460L257 451L243 445L230 440M483 1003L472 1002L456 997L439 994M402 521L405 514L407 505M175 760L163 769L151 778L147 788M560 243L556 260L558 267L565 270M576 664L582 675L585 682L581 688M256 347L247 337L231 337L219 329M213 592L231 591L236 596L244 606L246 617M576 551L568 546L562 534L555 526L548 521M0 929L6 922L15 911L19 897M502 912L490 912L473 913M164 830L155 828L142 826L128 820M455 389L444 378L428 375L420 371L406 370M409 306L422 294L429 278M82 555L90 555L99 552M524 1111L515 1107L499 1114M509 190L495 200L495 210M639 829L630 828L624 823L619 818M137 506L145 507L159 511L166 513M196 477L204 474L215 466L218 458L225 454M6 161L0 148L-11 138L-17 127M222 1083L224 1076L235 1067M83 350L96 357L107 355L121 350L128 353M318 554L314 565L313 577L305 586L292 588M105 647L94 652L80 658L65 653M407 481L399 468L391 459L383 450M362 728L364 738L377 744L394 743L398 738M126 151L117 139L105 133L97 126M46 1044L41 1060L34 1069L26 1075M584 936L582 920L577 916M199 1058L205 1053L208 1043M431 686L444 679L451 677L461 674L474 679M109 298L98 306L85 303L69 298M654 959L643 960L630 961L622 957L605 957M631 564L628 569L628 575L642 584L660 585M207 886L223 880L235 878L242 876M102 382L111 381L118 379M602 849L605 841L613 829L624 817M197 845L192 831L195 821M285 1044L288 1058L287 1075M415 173L404 179L397 189L391 192M258 562L251 559L236 561L226 563L212 565M172 515L169 522L163 533L164 547L159 559M162 190L166 177L167 169L163 160M226 770L232 754L236 736M96 164L93 150L81 141M485 361L481 345L482 338M73 566L87 561L99 562M360 738L369 727L379 719L382 713L389 707M405 172L403 165L409 153M236 226L227 231L215 232L198 233L189 243M130 1080L124 1080L113 1085L107 1094L104 1104M410 354L416 346L420 338L437 334L452 343M148 459L144 464L130 475M410 345L415 355L421 367M86 768L80 753L80 744L72 734L75 716M95 1046L101 1043L109 1031L107 1015M19 436L29 438L42 446L57 445M123 250L136 254L147 261L156 258L163 260M88 960L78 956L67 958L63 965L68 980M177 530L166 519L167 502M569 606L563 622L555 635L543 644M259 1053L253 1041L247 1027L249 1016L255 1013M340 512L344 502L341 485L347 475L349 460M109 412L114 400L119 385L114 372L120 358M457 253L452 257L435 256L422 266M213 764L201 755L195 751M238 640L235 653L242 663L248 668L252 684M106 263L104 252L99 238M411 236L413 242L414 248M327 922L321 915L312 908L308 902M161 663L145 660L138 664L135 674L132 679M396 448L407 448L421 450M454 710L465 697L463 687M504 440L519 439L526 439M80 973L71 981L69 995L63 1008M648 600L646 590L644 581L637 564L635 557M341 747L327 755L322 764M78 581L90 570L101 556L108 549L107 536M132 399L135 390L130 376L125 367M373 1073L375 1064L387 1056M523 761L513 755L498 747L493 732L491 726M371 793L364 788L361 772M232 1083L232 1093L240 1103M397 305L411 311L417 312L428 310M296 1064L300 1071L305 1075L311 1079M524 1019L527 1035L524 1047L517 1051M539 1051L531 1049L525 1041M76 428L92 428L105 417L119 412L125 413M419 328L425 335L436 338L443 337M10 738L-2 736L-7 728M527 690L537 699L548 700L559 705M69 172L55 169L44 162M292 472L282 482L269 481M496 582L504 590L510 603L520 610L522 618M405 1026L395 1041L391 1056L397 1067L401 1073M555 400L556 407L549 421L542 429L532 440M263 530L257 525L250 523L236 522L219 519M224 809L222 816L219 828L216 841L208 850M116 1069L127 1077L142 1082M423 180L415 195L420 207M96 267L83 266L77 260L74 251M446 1032L460 1021L460 1014L457 996L453 990M242 665L247 676L252 682L257 686L265 696M467 523L454 529L448 534M606 954L614 955L626 947L642 943L652 929M90 920L97 909L101 902L107 891L107 881M397 693L399 679L405 663M22 157L15 158L5 168L-10 166M645 893L633 893L624 892M435 784L425 772L419 769L405 762L394 757M481 537L486 529L500 519L512 512M40 589L51 598L66 596M318 245L325 251L334 253L347 260M597 854L584 845L571 838L566 823M225 203L228 219L233 229M433 841L444 851L449 864L455 868L465 871M489 867L475 867L466 866L455 870M523 499L529 512L532 528L537 545L531 561M220 384L231 391L245 392L257 400L264 410M652 430L663 419L663 412M293 337L290 343L286 348M586 335L572 335L560 346M431 1013L419 1002L412 996M614 754L629 752L642 757L648 763M182 181L173 182L168 189M643 318L639 330L643 345L637 357L640 371M48 687L48 693L59 702L64 705M99 447L87 446L75 446M554 895L554 887L561 874L565 868L570 851M199 174L206 174L219 163L230 160L240 150M26 501L35 506L48 512L64 518L71 514M17 1109L17 1116L16 1126L17 1142M653 156L659 154L675 153L686 156L702 151M380 1038L390 1031L405 1024M159 764L166 762L180 757L188 756L198 744M326 913L322 924L311 937M213 1089L210 1079L203 1075M114 182L114 190L119 197L131 201M519 747L515 752L513 758M58 767L73 764L80 755L83 748M295 357L301 360L304 372L300 385L306 393M155 236L146 226L134 212M305 742L302 750L290 756M311 294L307 289L299 286M405 1004L391 997L387 990M318 234L328 229L339 228L353 219L357 213M156 529L157 536L158 542M142 725L142 732L132 742L131 750M454 178L465 181L471 190L472 203M419 727L434 732L449 737L465 745L481 746M479 851L484 860L480 877L465 886M274 163L284 151L291 141L306 136L313 127M366 131L363 125L350 120M315 422L301 416L294 407L282 396L268 388M305 749L314 743L321 734M494 813L489 798L491 792L484 778L482 761M583 229L579 235L569 244L557 247L550 251M354 764L359 748L369 737L379 736L390 734M36 490L29 500L17 509L11 519L-1 526M620 923L628 926L635 926M117 1072L124 1078L124 1090M342 743L346 754L351 763L362 772L363 779M152 1061L148 1049L141 1035L137 1021M360 574L352 574L344 566L329 565M232 572L243 581L248 598M455 781L452 788L450 801M243 323L237 315L233 305L227 300L212 291M328 264L321 259L311 252L297 249M588 1083L595 1071L610 1067L615 1059L613 1048M445 235L461 236L466 231L477 224L486 225M182 141L175 129L164 115L158 105M336 175L336 167L335 157L332 148M641 988L650 1002L657 1010L660 1018L657 1035M272 949L265 945L263 929M43 1073L45 1068L42 1059M303 684L309 678L309 665M542 949L544 963L555 974L560 983L573 987M437 405L450 409L465 413L481 420L490 424M286 375L277 363L262 362L253 360L245 358M455 474L460 484L468 491L469 503M337 881L348 888L358 890M554 914L562 926L562 939L562 945L562 955M223 1024L227 1036L231 1051M452 1066L463 1060L470 1056L477 1056L494 1055M204 479L216 476L223 471L226 456L230 450M451 425L449 435L453 441M318 548L322 562L328 566M166 185L170 170L177 165M121 468L125 485L132 492L136 504L139 512M65 694L74 705L75 713M3 840L17 832L24 819L20 805L30 793M278 630L276 637L271 643L260 652M27 445L31 456L29 470L28 478M646 544L653 529L658 524L665 512M343 791L349 800L349 807L360 821M640 456L637 449L627 438L618 426M179 904L175 894L184 879L182 867M298 240L288 249L288 257M45 793L56 787L66 784L81 785M341 608L328 611L320 616L305 623M625 150L617 158L610 166M22 672L23 656L20 645L23 635M373 607L361 603L345 598L335 595L320 586M231 1091L234 1104L231 1114M383 880L377 876L367 874L353 877M425 708L430 692L433 685M25 773L14 786L4 796L-6 811L-14 818M530 218L531 207L524 194L528 185M132 751L148 749L154 742M654 519L649 536L644 547L640 556L635 567M228 195L233 180L231 168L231 157L236 147M118 137L109 129L103 112M307 1051L297 1037L293 1021L288 1016L278 1012M490 880L499 876L503 871L513 867M424 374L415 374L410 371L401 366M650 538L653 531L660 525M432 294L430 282L416 273L412 261L404 246M238 772L254 774L267 775L274 778L282 788M345 612L348 619L351 629L349 639L349 648M95 293L104 298L110 301L124 299M358 591L347 603L337 607L333 622M634 721L631 706L632 689L631 680L634 667M592 800L576 800L560 803M642 373L645 382L648 389M208 926L199 925L184 923M483 1040L469 1047L453 1049L442 1054M395 928L401 914L398 901L399 890M2 318L4 325L-3 335L-17 343L-33 346M520 436L514 442L508 453L510 462L514 472M248 949L241 932L239 919M595 1087L610 1094L621 1102L622 1110L622 1118M9 642L11 626L8 618L11 601M175 861L161 870L150 884L144 897M268 264L267 273L264 281L270 294M308 985L321 988L333 997L342 996M39 450L27 464L14 475L13 490M166 735L171 748L186 755L194 753M323 456L314 458L308 463M29 246L44 246L51 251L57 263M173 430L184 421L199 411L215 405M289 307L295 306L309 303M653 1041L670 1047L680 1043L689 1031M229 322L219 332L207 338M139 1111L145 1117L151 1123L158 1126L160 1135M80 490L88 476L94 473M433 570L444 563L450 560L461 565L468 582M523 248L532 245L546 241L554 230L555 221M506 516L512 520L516 529M429 239L418 229L407 216L397 215M241 318L230 320L219 318L205 311M285 542L300 552L308 563L317 578M425 202L408 206L403 213M592 955L580 952L563 948L551 947M305 835L302 827L291 821L277 821M120 510L127 516L133 525L145 532L151 549M123 303L125 294L119 285L109 284L95 283M266 773L268 761L267 743L270 730L269 719M82 133L96 135L103 136M95 359L97 351L99 340L96 334L96 326M632 588L635 579L637 563L632 555L621 543M273 612L260 610L248 609L236 605L227 595M320 829L308 826L300 821L283 823M408 761L404 765L399 772L398 781M596 456L582 456L574 453L563 439L561 425M522 914L529 909L535 905L537 897L545 889M619 610L624 614L640 619L644 626L661 627M42 547L32 539L26 522M505 884L496 871L484 866M33 1060L46 1047L59 1046M67 678L57 669L40 668M192 558L178 567L168 567L161 571L144 572M4 949L-3 958L-12 963L-23 965M99 868L93 872L76 871M624 632L625 621L626 606M46 455L38 463L31 464M99 690L112 698L129 705L141 716L148 731M206 461L204 448L205 437L210 421L213 408M226 926L210 923L198 923M472 994L464 999L453 1006L447 1020L442 1023M389 359L390 348L401 337L407 331L414 329M618 565L615 554L624 541M371 1008L356 1003L348 997L336 986L330 983M484 224L468 226L461 224M543 200L555 204L564 207M386 635L374 640L356 641L340 636M274 281L262 289L247 289L241 293M311 861L319 846L316 830L311 821M343 236L340 245L345 260L357 265M587 1003L596 1010L598 1020L599 1031L592 1041M513 591L507 586L502 574L490 566L476 568M410 739L409 749L410 763L417 769M109 144L104 135L91 131L75 124L70 109M342 865L337 860L329 860M516 363L519 352L520 339L525 334L529 329M272 973L265 975L256 983L248 985M101 1065L92 1056L86 1056M256 437L247 435L233 444L225 447M155 625L146 627L140 638M19 749L28 751L42 749M364 900L355 906L343 907L335 907M110 363L115 352L124 345L133 348L136 353M316 713L333 706L341 708L350 705M350 189L358 188L369 182L380 179L394 169M447 460L452 470L463 484L468 494L469 500M424 121L411 125L394 124M500 654L504 641L517 630L519 619L519 601M394 503L392 486L386 478L385 472L386 457M465 309L472 303L479 297L483 287L494 275M137 314L137 307L131 296L130 288M441 718L448 721L456 725L464 729L479 728M445 1105L444 1092L431 1082L425 1073L425 1059M212 958L201 967L190 969M580 342L582 354L586 364L585 381M650 343L636 333L626 334M410 147L397 149L389 155M71 356L62 369L63 378M394 555L406 553L410 547L419 544M43 246L49 244L55 234L53 228M558 518L552 511L538 511L529 505M577 735L570 748L571 758L570 765L566 771M127 689L120 681L107 678L101 682M84 700L69 704L53 700L45 701L36 704M5 702L6 693L-2 683M226 1090L213 1081L205 1070M644 715L641 728L642 737L638 743L629 757M603 754L594 745L593 730L597 721M135 302L140 300L148 290L156 282M599 477L605 471L621 465M223 670L229 675L231 682M90 770L98 755L106 750L119 754M641 1111L642 1104L653 1091L657 1084L664 1076M641 362L649 373L658 375L666 380L675 378M333 700L326 700L318 711L307 717L295 723M327 580L322 592L316 608L308 619M519 765L526 773L533 779M247 275L246 263L245 256L245 246M305 736L297 744L291 754L289 760M174 194L188 185L201 184L213 172M47 157L57 167L61 182M555 308L547 292L551 278M6 417L21 408L23 393L35 386M624 979L627 994L623 1006L613 1017L602 1020M205 306L206 295L194 284L192 276L195 267M328 774L319 780L308 781M353 443L368 435L380 423M413 718L396 716L385 714L378 718M374 568L381 565L389 567M396 146L403 152L416 152L423 152M113 974L107 990L99 998M255 1017L252 1026L257 1040M377 427L386 438L392 440L399 440L415 441M597 993L594 998L580 1002L571 998L556 995M540 964L523 966L514 959M120 684L111 684L102 682M191 1030L198 1014L207 1007L211 1001L220 989M511 527L518 537L520 543M492 498L483 491L482 484M215 863L208 862L193 861M309 396L321 402L326 408M111 786L118 785L123 778L123 763M457 950L466 940L472 936L482 932L488 928M132 367L138 363L147 347M126 784L120 798L121 806M273 226L264 236L255 251L255 262L257 269M10 769L19 762L33 755M242 186L245 201L242 218L229 228M373 369L384 384L381 398L382 412M417 998L415 1009L412 1022L406 1031L401 1038M648 350L644 341L642 327M39 491L34 500L27 505M648 560L657 555L670 549M641 763L636 770L635 780M35 1031L48 1023L62 1015L70 1013L76 1010M626 171L632 166L644 165M134 623L124 624L117 629L113 637M294 751L288 755L284 765L280 775M482 875L483 869L494 856L507 845M100 841L104 850L108 862L108 872M128 1030L143 1027L153 1023L164 1024L174 1021M648 190L657 184L663 178M167 1027L168 1012L162 1004L153 997L146 992M604 478L604 464L603 455M447 372L431 376L416 375L399 378L388 371M340 307L334 313L319 323L313 331M270 990L270 983L278 970M176 327L184 321L183 305L186 299L192 289M481 289L476 294L475 306L481 318L481 326M531 310L540 316L545 322L551 323M82 183L92 188L99 186M493 126L487 122L483 118M647 876L662 872L672 873L682 871M157 478L153 483L153 493L150 504L138 512M91 717L107 711L115 707L129 710M338 775L352 785L358 787L362 792L369 799M398 517L397 507L395 489M432 814L441 815L449 816L458 825M331 246L346 240L362 232L378 239M316 656L313 671L312 678M470 278L478 266L483 258L482 242M89 650L82 636L79 628M606 183L594 191L580 192L562 196L555 201M191 230L176 239L171 244L155 244L147 254M41 651L44 642L55 633L66 628M146 512L139 505L130 502L116 507M186 862L188 855L195 846L204 843L217 842M142 409L157 400L165 386M481 925L484 908L493 894M196 929L212 921L222 920M650 872L643 885L630 896L628 909L622 917M568 173L574 163L580 158L583 149M143 863L148 854L155 851M563 493L576 503L576 510L583 516L592 530M389 1083L380 1082L370 1085L361 1094M489 890L501 896L514 907L519 915L529 918M54 605L51 597L44 581L31 574L19 571M656 818L659 824L658 841M121 927L134 936L146 935L162 933L178 936M494 325L491 318L489 310M525 241L539 242L547 247M56 243L48 246L39 257L32 257L17 264M350 258L342 249L335 241L327 240M538 355L551 365L556 370L568 375M478 538L473 529L463 526L454 525M456 652L463 658L469 670L472 682L481 690M539 433L542 428L540 421L539 414M43 755L42 771L47 785L44 792M146 1065L150 1058L159 1055M321 645L320 632L309 620L295 609M226 856L238 862L246 868L251 876L255 890M94 683L95 697L92 712L91 723L93 734M307 404L323 411L339 411L350 423L360 429M59 198L53 193L42 183M323 988L335 995L342 999L351 1010M349 243L364 252L373 263M492 362L481 353L469 352L455 343L438 343M241 252L236 262L239 272M600 367L590 365L583 371M414 510L426 513L436 527L452 529L458 529M196 226L193 233L190 240L188 247L190 254M320 274L311 266L310 255M352 387L364 377L372 370L382 368L388 363M26 511L22 505L19 493M174 538L160 538L148 528L147 516L142 501M72 226L79 219L80 205M544 546L533 544L524 536M163 271L155 276L146 278M437 546L423 548L417 542M388 750L393 759L401 762M12 317L16 307L14 294L12 284M334 759L325 763L316 775L314 791M0 775L-10 780L-15 786L-21 802M200 215L212 207L223 207L238 209L250 204M181 700L185 706L188 713M598 769L608 775L622 786L630 791L641 801M101 246L92 245L82 232L82 214L87 204M598 186L591 200L582 203L574 198L572 191M125 929L114 917L111 909L113 899L111 888M121 278L117 283L111 293L109 308L112 324M176 237L184 242L186 250L197 263L204 276M163 937L151 931L133 929M621 998L618 1008L623 1017M535 938L530 944L518 945L504 938M70 860L62 865L55 876L53 887L49 895M563 512L551 520L546 536L549 544L561 555M322 844L322 834L328 820M123 262L108 255L101 252L93 240M396 495L410 500L416 500M55 261L39 262L24 262M537 967L546 974L557 974M218 273L226 276L232 274L237 263L243 247M1 342L-0 350L-7 356L-17 356M540 231L537 239L541 247M219 477L235 473L243 471M393 794L399 807L396 817L394 825L395 836M595 913L589 899L585 892M523 1089L535 1085L539 1077M653 300L644 308L629 318L624 330M619 1035L610 1043L598 1044L587 1043L576 1041M455 863L447 856L433 848M311 252L313 262L325 271L329 282M362 1045L357 1060L351 1064M462 494L471 499L484 496L499 503M20 482L23 488L23 499M308 258L298 252L291 244L285 243M39 758L28 760L12 759M575 670L584 662L587 651L592 635L585 618M139 734L129 747L131 760M454 594L439 588L427 579L418 580M51 719L51 710L47 703M7 1023L20 1028L23 1036M371 679L367 674L371 665M493 1072L479 1066L467 1054L461 1050M486 219L491 215L503 215M25 279L9 273L3 260M530 769L532 752L537 734M343 883L335 889L322 899M584 889L569 897L552 904M652 216L660 226L675 229L682 228M613 280L618 288L627 300L624 317M501 558L516 550L523 542M268 735L270 725L269 707L269 693M172 989L156 983L144 973L131 972L124 973M374 968L380 980L384 991L398 999M118 227L129 216L133 207L141 190M461 592L450 599L447 606M373 1101L371 1084L369 1073M35 982L44 974L45 966L40 959L30 945M275 332L278 316L276 299M494 283L487 292L471 292L463 285M374 937L368 931L355 929L345 920L341 906M481 133L488 123L500 114M172 837L186 839L196 831M489 306L479 297L471 295M446 1068L440 1069L429 1063L420 1052M299 527L288 528L280 521L270 516L258 518M286 402L277 396L274 383L285 370L284 355M426 732L412 736L400 738L389 732M438 966L448 973L450 989L446 999M304 1022L306 1011L308 996L312 987L321 983M597 788L601 784L616 780L628 783M208 288L206 280L206 271L214 258M379 247L379 239L378 227L381 220L389 211M514 957L499 954L490 959L489 965M505 271L488 271L478 267L471 265L458 263M157 1012L147 1024L140 1038L142 1046L148 1050M15 1098L24 1091L28 1084M587 211L573 220L565 220L554 221M410 328L399 336L395 342L381 353M414 969L428 980L437 990L440 997M608 311L618 318L625 322M589 148L588 163L588 172M625 465L618 457L619 445L614 429M130 960L132 953L129 941L130 932M284 562L274 551L263 542L252 536M415 183L429 193L437 201M575 1064L570 1066L560 1065L551 1071M431 489L434 483L434 469M372 439L371 449L379 459M182 723L189 723L199 728L209 729L216 734M327 1103L316 1107L307 1116M14 137L28 126L38 126L46 133L63 131M423 188L437 191L452 191L464 187M402 510L401 498L409 484L406 467M147 940L152 955L159 960L166 973M535 653L551 647L557 633L552 617L551 607M533 387L545 392L555 390M383 964L386 953L390 942L403 937L413 938M148 381L140 388L132 391M561 810L568 807L576 809L583 804M137 706L122 708L114 717L102 717M144 480L155 485L163 484L171 481L187 479M97 990L96 984L95 975M348 469L354 473L360 477L372 475L378 468M425 847L422 854L416 861L416 873M33 366L39 366L45 358M66 344L57 338L54 330L48 317L41 313M418 821L416 828L413 842M200 1020L209 1031L216 1039L224 1054M281 140L288 142L295 142M311 120L318 118L328 126L340 137M110 265L125 269L137 270L149 273M166 575L180 570L195 574L210 581M74 801L72 793L77 786M234 150L217 146L203 150L186 151L171 141M445 1013L438 1010L428 1008L420 998L411 995M380 817L385 807L400 797M189 1083L182 1080L170 1081L160 1089L158 1101M193 570L195 577L198 583L213 587L218 593M515 618L519 611L529 610L537 611L543 607M310 472L313 461L326 451L341 443L348 438M575 919L581 925L589 928M195 1041L186 1036L175 1039M290 430L298 424L309 426L317 435L318 441M58 259L67 249L80 248M576 172L573 162L579 147M302 173L308 177L321 186L325 200L326 207M335 832L336 824L332 813L335 799L335 790M649 125L643 132L636 133L626 141L626 148M332 507L342 512L350 525L350 538M447 973L439 974L432 972L424 969M459 318L448 309L442 299L440 289M70 533L67 542L61 551M22 766L23 759L25 742L20 728M644 475L652 473L665 471L670 465L681 457M301 973L309 979L319 992L325 1001L332 1013M608 890L595 885L583 879M544 186L551 182L558 184L567 191L573 208M481 354L490 343L508 342M41 368L46 372L49 385L58 400L69 410M649 689L649 701L645 709L640 719M518 205L524 200L524 192L525 177L523 161M448 1071L453 1060L458 1049L464 1040L464 1028M44 544L43 557L49 567M327 170L323 163L309 153M461 187L467 182L483 184L495 183M37 812L37 830L48 839L58 841M583 178L581 188L591 202L591 214L590 226M548 922L536 934L535 947M362 1060L361 1067L362 1076M313 896L313 890L321 877M350 974L348 969L341 960L339 953L328 946M77 731L84 725L86 719L84 706M490 1002L495 998L501 982L498 976L490 968M206 718L211 712L222 704L229 706M135 820L136 809L137 798M570 362L581 353L588 353L602 357M184 321L186 330L190 337L204 344L217 356M426 570L442 575L455 574L466 561M561 501L569 494L571 486L566 476M200 657L185 665L175 664M172 868L168 877L166 888M478 850L483 862L495 874M650 651L638 656L632 661L617 659L612 665M525 1064L540 1067L550 1059M180 386L177 402L174 409L175 418L177 426M289 583L302 581L313 581L318 586M362 1067L351 1077L349 1094L356 1105M405 168L411 174L422 178M363 346L370 329L384 321L386 309M154 228L143 233L135 239M540 532L533 528L518 524L509 518M309 1087L299 1083L292 1079M70 329L64 343L62 356L56 363L50 365M250 1111L253 1128L245 1138M413 849L398 844L392 842M344 557L347 566L346 575L345 585L354 598M158 847L164 843L168 838L170 826M516 347L516 330L522 314M437 721L432 712L437 702L445 692M507 1013L512 1007L525 999M308 219L309 213L310 206L310 194M277 246L265 238L260 222M388 732L393 736L395 754M414 855L399 855L385 852L369 849M100 127L87 122L77 118L72 105L67 100M224 680L236 681L245 680L256 691L257 697M579 846L566 849L560 853L557 859M288 999L276 1013L262 1022L259 1029M550 869L567 874L580 864M546 145L550 155L554 162L555 179L567 191M583 609L593 624L599 629M52 908L49 900L48 889L38 879M451 1006L464 1018L465 1028M434 991L447 988L459 994L467 993L479 991M123 613L122 629L114 643L115 649L124 658M117 535L122 547L125 557L120 573M551 989L541 977L534 969L527 968M578 869L573 878L570 885L572 894M457 820L469 808L481 803L485 798M141 965L133 978L129 987L127 998L131 1014M478 457L477 445L477 429L467 417M635 726L637 732L651 739L656 753L660 767M430 635L412 639L402 638M190 279L182 283L176 299L171 301M67 515L62 522L51 530M22 864L18 851L9 839L2 839M474 877L460 883L454 899M386 508L392 493L392 479L384 470M636 692L629 691L616 691L599 689M160 136L145 128L131 123L120 129M506 563L494 569L479 563M63 287L62 274L68 265L80 261M499 178L490 181L484 186L475 195M4 805L-0 793L-8 782L-16 770M563 1106L574 1103L577 1096M341 240L344 246L343 254M320 863L314 866L296 866L281 872M211 1003L205 1000L198 995M469 635L471 643L463 656L463 673M469 590L472 597L483 611M123 809L117 806L104 810L92 805M226 133L222 148L222 161L225 174M167 657L155 653L146 656M370 245L355 247L340 247L332 243L321 230M311 286L315 281L317 273M574 440L581 440L592 438M198 874L201 885L208 894L214 905M579 956L595 958L611 961L620 969L630 980M286 465L299 475L307 480L312 492M604 309L600 326L603 336L611 347L609 363M330 132L329 141L326 147L320 154L303 159M566 1041L576 1034L590 1030L596 1019L603 1011M468 820L467 827L467 835M466 431L468 414L459 404L458 388M208 824L217 813L223 810L233 807L238 803M499 266L503 276L505 284M113 861L119 854L124 848M548 205L551 198L549 183M388 1079L387 1070L389 1064M162 951L158 937L154 928M188 396L180 398L167 409L159 412M174 606L160 598L150 586L151 578M384 274L375 267L362 262L358 253L358 240M176 629L187 635L192 640M122 258L114 249L99 240L92 238M591 277L582 287L576 303L579 315M14 923L0 921L-11 925L-26 927L-37 931M26 1042L28 1050L29 1059L37 1069L44 1073M392 812L378 820L369 817L351 817L338 810M301 283L308 279L312 270M563 553L569 540L573 531M226 587L222 579L217 570L219 561L218 551M614 516L601 526L594 535L590 540M486 702L491 708L497 717L500 722L510 726M151 616L162 616L176 614L185 611M539 154L546 150L551 139L553 123M481 771L478 779L471 788M8 769L-4 759L-9 751L-10 738M295 490L283 479L276 479L266 473M571 199L582 192L598 191L605 182L605 172M321 484L328 476L341 471L346 467L352 459M293 415L302 409L309 396M55 213L61 203L66 194L79 190L94 197M538 685L548 681L566 678L581 673M643 197L651 192L659 190L673 194L677 199M633 908L621 901L611 889L608 884M141 1049L145 1064L146 1078L141 1094L140 1103M12 531L15 542L26 550L31 557M145 727L145 711L141 698L146 688L148 682M227 561L215 563L208 566L197 567L189 576M319 1098L336 1103L346 1103L355 1092L356 1078M231 548L244 542L258 549M246 653L244 660L237 677M117 277L122 260L119 250L109 237L103 223M436 802L430 794L429 783L428 771L425 756M606 296L596 308L584 315L577 317L567 323M124 148L115 158L103 163L90 175L83 180M310 209L297 213L287 216L279 212L272 204M157 588L151 580L136 573M303 363L301 347L293 338M396 448L405 447L412 450M447 523L434 533L429 543L432 557M509 762L502 754L500 748M543 840L557 844L571 846L578 842M172 939L169 925L158 916M159 599L168 609L179 622L187 626M194 561L192 552L187 548L175 549L159 549M468 424L465 411L458 402L454 387L449 381M252 752L264 746L268 742M334 984L322 990L317 999L315 1015M246 979L229 981L218 985M439 183L443 191L444 206M426 473L411 467L400 455L389 451L382 445M261 217L252 219L236 222M52 912L46 918L32 925L24 935L15 947M26 724L15 714L14 697M87 420L89 433L89 444M513 436L504 428L492 428M387 714L376 721L369 720M510 313L524 308L532 303L541 301L551 298M186 760L189 769L197 779L194 790L191 807M209 1088L202 1085L189 1091M565 459L558 456L549 455M200 881L191 881L180 888L172 889L159 881M400 275L414 279L429 276L446 272M562 421L563 435L567 444L566 457M4 1053L10 1061L14 1079L12 1085M137 831L136 838L133 848L123 858M405 556L407 565L404 577M308 1084L313 1094L324 1103L336 1116L343 1116M225 654L221 660L218 675L217 690M100 269L97 281L94 291M433 672L438 669L445 668L458 661L474 665M292 998L298 1005L296 1013L293 1022M612 258L605 250L601 245L591 231M11 554L27 552L38 546L41 536L38 530M366 231L382 235L397 242L408 256L419 267M182 568L185 561L190 554L201 550L215 555M583 518L592 531L598 538L607 541L621 541M300 780L313 769L325 761L328 753L324 744M350 1058L356 1069L363 1075M151 327L154 344L148 360L142 364M620 241L631 243L646 241M293 516L304 523L318 534L328 542M107 327L120 328L129 324L147 325L156 321M73 573L82 580L83 590L86 606M556 418L568 425L584 420M633 844L636 837L634 825M102 810L97 798L86 788M405 937L389 932L379 920M119 993L125 994L136 993M552 737L558 745L558 751M599 165L596 180L597 187L599 195L595 201M305 532L312 528L321 519L333 518M84 771L84 785L77 795L78 808L73 819M94 774L100 766L101 758L105 751L114 748M438 636L424 638L413 637L404 627M22 1020L7 1017L1 1015M548 355L538 363L529 368M536 693L527 700L517 704M430 630L422 635L411 639M435 783L427 787L424 798L430 809L429 827M79 827L86 833L104 832L121 831M261 1055L268 1057L283 1054M488 641L492 626L492 610L498 604L505 593M66 284L66 275L68 260L68 243L61 237M636 517L618 517L609 524L608 541L607 550M204 1037L199 1033L195 1026M502 921L508 913L516 905M163 467L166 475L168 489L177 500M93 393L92 400L90 407L82 416L83 426M487 571L497 571L515 568L526 555L534 547M575 806L571 798L567 781L560 769M570 780L578 772L585 757L584 742M165 624L160 641L154 645L147 651M388 781L396 790L402 801L406 817L411 820M550 758L553 764L555 775M593 538L587 541L577 546L573 562L565 569M488 548L490 536L480 521M604 916L606 906L615 901L624 901M213 814L211 806L204 795M263 465L265 449L272 438L273 422M544 220L544 209L551 197L558 193L567 186M287 478L297 481L303 492M459 676L461 668L458 662L462 648L473 639M96 457L97 474L88 489M582 411L572 412L558 419M102 1106L110 1119L118 1124M425 334L438 345L448 352M365 1111L368 1127L362 1139M642 861L632 849L632 839L627 822M234 1071L240 1078L238 1086L235 1101L236 1112M530 719L539 708L541 693L548 686L555 677M388 183L400 184L407 183M569 266L556 254L555 245M18 713L8 728L0 736M443 448L426 451L413 449L406 456L394 461M235 238L242 236L247 230L263 224L281 228M19 1042L24 1037L37 1036L47 1033M457 257L457 266L462 277M60 378L61 396L57 405L63 416M398 1095L404 1092L407 1074L405 1064M525 684L521 701L526 713M143 462L154 454L170 449M577 295L583 296L591 306L592 323M204 409L204 422L208 428M102 729L92 742L86 751L82 757M222 482L224 491L219 500L204 508M597 822L594 806L601 795M369 817L356 820L349 819L340 815L329 812M322 607L320 621L310 635L298 644M346 160L363 162L374 156L377 147M18 1080L18 1098L7 1110L-3 1120M117 488L120 481L133 471M48 321L60 328L64 337L69 343L76 358M600 448L611 460L627 461L634 458M439 996L424 992L419 984L422 970L415 962M540 494L549 480L558 471M259 811L253 823L254 831L266 840L279 841M486 1069L484 1058L484 1049L479 1043L478 1027M623 670L615 680L615 691M25 505L41 506L54 505L62 506L66 511M503 307L509 310L512 317L520 321M303 1015L311 1015L317 1011L325 1009M288 985L301 986L309 987M208 230L218 237L220 245L227 252L234 254M250 678L249 671L250 657L252 651L266 643M423 400L407 395L395 398L377 397M314 1012L308 1018L293 1015L283 1018M105 855L98 858L85 864L78 869M551 470L566 463L577 467L588 468M436 251L428 254L421 252M433 734L449 733L458 728L468 723L478 716M593 1069L595 1063L590 1051L587 1041M118 559L108 552L98 537L92 523M377 915L377 927L371 932L362 932M402 850L402 843L406 838L413 824L420 821M234 858L248 850L264 844L278 838M462 407L464 415L470 419L485 427L495 435M459 399L473 388L479 382M496 254L484 257L474 249L465 244M375 564L392 568L399 583L415 589M89 417L81 416L65 424M416 410L425 405L437 403M387 1105L385 1113L374 1118L362 1116M34 356L33 374L25 380L12 384M218 150L223 146L227 137L228 126L225 112M246 484L235 486L218 483L206 480M175 1027L190 1031L200 1044M15 247L14 240L17 233M511 978L525 974L535 960M382 1079L398 1084L405 1081L414 1070L412 1055M60 1065L66 1058L69 1052L74 1041L83 1039M397 304L387 312L378 319L371 318L365 311M377 307L379 315L388 327M259 950L260 962L255 972L247 985M430 1081L434 1086L438 1096M407 932L409 943L416 955L413 970L407 983M629 685L633 674L636 663L635 647M655 308L642 303L626 302M522 1059L519 1069L516 1084L519 1090M208 1103L200 1096L198 1080L203 1074M142 135L137 144L135 154L131 171M149 603L154 593L163 584L163 574M625 821L624 812L620 797M9 425L12 434L14 447L20 458L21 469M84 681L73 684L66 689M153 986L146 999L143 1012L147 1019M211 748L226 748L240 741M370 1004L372 1015L374 1024M304 1014L312 1010L327 1012L335 1007L339 991M162 748L164 760L168 768L173 785L169 797M424 1071L414 1073L398 1075M331 366L332 381L338 388L341 394L355 399M305 1023L315 1027L326 1026L344 1025L352 1025M187 702L180 705L170 713M207 835L196 835L188 834L174 827L168 819M26 628L20 623L13 623L4 615L1 606M638 455L627 460L615 463M260 273L257 262L247 249M157 760L147 751L135 752M498 1063L507 1056L522 1052M13 880L-2 883L-7 887L-9 894L-10 905M53 995L44 1001L38 1003M409 383L407 391L407 404L412 413M78 403L94 411L109 410L116 409L122 412M135 874L138 859L150 847L150 837M411 682L411 674L414 669L415 652M621 505L623 518L623 530L616 536M562 366L553 353L556 337M610 421L608 438L605 448L592 460L588 470M429 415L438 413L453 421M525 322L543 323L554 335L562 335L577 336M582 810L580 824L587 837M43 793L54 794L60 789L75 781M629 990L633 979L632 973L623 959L611 958M427 987L436 979L451 975L463 966M58 484L63 478L71 471L78 469L85 461M264 584L257 588L242 594L232 589M57 371L67 380L72 391L84 404M602 1096L603 1108L600 1115L593 1119M135 808L138 824L140 837L147 848M361 1056L356 1042L356 1035L359 1019L363 1009M258 693L248 681L238 672L237 656L230 651M521 620L529 635L530 645M199 327L192 327L186 331M509 190L512 201L510 211M197 504L191 516L182 527L168 528M328 468L331 484L341 492L350 503M230 1085L223 1077L208 1077M165 210L175 220L184 226L196 231L204 237M462 567L456 567L442 559M614 561L604 560L589 557L575 560M77 633L86 637L95 639L102 636M549 317L539 313L526 316M247 419L249 432L244 446L249 462L256 467M642 721L651 726L657 729L667 739M70 590L78 602L77 609L77 623L82 634M609 256L620 261L623 272M245 380L253 383L265 380L270 374L268 360M39 902L46 909L48 918L55 926L66 930M436 594L435 605L429 616M96 245L89 236L82 233M411 530L398 521L384 524M210 511L219 526L218 539L226 552L227 565M583 761L584 752L576 743M393 534L377 538L365 544L356 550L341 547M199 651L192 666L183 673L169 681M367 797L360 795L355 781L353 769L353 762M613 989L610 979L608 962M229 424L230 409L235 397L239 390L253 384M452 308L443 298L435 285L433 277L435 261M135 904L150 896L158 889M470 1046L463 1046L456 1040L457 1024M2 307L12 312L25 313L37 307M33 544L41 542L47 535L54 532L60 515M46 226L38 213L25 207M585 682L601 690L610 690L619 691M493 1041L488 1047L485 1057M529 939L533 943L542 953L544 970L548 977M267 360L250 355L245 351M285 975L285 966L287 960L294 951M252 730L248 745L245 759L247 775L248 781M254 559L256 573L260 587M517 325L510 331L501 346L485 348M450 679L449 668L445 658M250 607L246 601L239 595L225 584M111 968L99 963L93 962L86 964L78 976M404 669L405 686L400 694L391 696L384 701M341 349L347 361L344 377M486 406L473 416L467 430L473 444M67 931L72 946L80 952M350 305L361 292L359 280L349 273M89 167L92 175L91 186M303 571L303 562L293 552L282 553L272 548M444 512L428 508L415 505L400 499M549 522L545 528L546 536L541 541M552 234L559 226L561 217L562 210M419 265L426 263L432 254L449 250L457 246M468 488L477 493L484 510M605 413L614 427L630 432L636 439M362 159L368 156L377 153L380 147M488 677L496 681L502 682L518 685L531 682M33 633L45 642L52 652L55 664M332 1112L334 1121L334 1136L330 1143M129 732L130 739L142 751M373 534L380 525L381 507M650 281L660 275L671 279L688 284L694 286M590 732L605 723L617 724L633 722M436 643L434 630L439 615L445 609L451 599M617 418L623 418L637 411L652 406M554 337L569 345L581 352L592 355M372 416L364 425L361 431L357 447L362 462M310 149L319 145L336 152M260 332L251 334L246 340M215 494L219 499L224 505M588 1048L601 1042L604 1037L612 1036L622 1038M542 474L534 473L531 467M54 158L66 168L78 179M175 409L178 393L180 387M171 759L162 750L154 745M222 281L212 282L203 280L195 273M154 1098L152 1106L159 1118L158 1125M97 1111L99 1118L101 1132L105 1146L105 1154M618 668L611 664L605 664L599 671L593 673M165 304L150 296L135 290L124 278L118 265M628 866L634 864L650 856M319 1101L323 1109L318 1126M473 534L471 524L466 512L466 505L457 489M97 795L105 786L122 787L135 790L140 800M525 571L531 564L535 553L537 548L532 531M544 534L533 527L517 527L510 520L506 505M438 695L437 707L438 725M260 546L272 552L287 545L304 545M503 902L509 899L517 896L522 888L531 888M368 446L362 445L352 448M315 218L324 217L337 212L349 200L349 192M611 427L599 433L596 440L580 447L573 446M498 387L502 397L508 411L513 422M403 900L398 909L391 911M476 1024L458 1022L448 1020M452 312L462 309L473 310L480 311L494 305M125 753L137 745L152 745L167 754L178 760M211 486L212 474L220 468M613 764L595 762L590 757M390 677L398 686L401 698M79 925L77 915L70 901L54 897L50 888M90 376L81 377L67 365M239 614L243 610L252 606L268 612M396 965L379 972L374 981M378 698L382 706L387 718M564 926L548 919L535 909L529 905L512 903M576 211L578 218L579 235L580 242L585 253M356 382L339 380L330 384L313 386L306 382M309 843L311 861L302 870L298 874L289 876M509 305L499 300L494 291M192 254L206 246L215 246L223 246M425 614L438 618L451 624L464 632M634 366L638 349L645 336M87 336L92 332L98 329L107 321L109 310M425 242L418 249L409 253L403 268M255 306L251 298L242 296L236 295L231 290M39 575L40 582L46 589L57 600M500 184L488 189L477 199L471 209M105 338L120 333L129 339M362 757L370 769L383 776L389 789M490 139L481 139L467 131M439 672L428 658L411 657L394 661L380 664M373 120L372 135L368 145M178 317L170 327L162 333L152 347L147 362" stroke="#fff" stroke-width=".8" stroke-opacity=".42" fill="none" stroke-linejoin="round"/>
<path d="M48.3 166.3C50.7 171.0 61.2 184.8 62.9 194.4C64.6 203.9 61.4 214.2 58.4 223.6C55.4 232.9 52.4 244.5 44.9 250.5C37.4 256.6 18.7 258.4 13.5 260.0M188.7 180.9C190.2 179.4 193.9 171.4 197.7 171.9C201.4 172.5 212.7 179.4 211.2 184.3C209.7 189.1 192.4 198.3 188.7 201.1M89.9 260.6C89.9 261.6 94.4 260.8 89.9 266.3C85.4 271.7 71.1 284.2 62.9 293.2C54.7 302.2 45.3 314.6 40.4 320.2C35.6 325.8 34.8 325.8 33.7 326.9M134.8 323.5C136.3 323.7 141.9 321.5 143.8 324.7C145.6 327.9 143.8 335.4 146.0 342.6C148.3 349.9 155.4 363.8 157.3 368.0M105.6 368.0C106.7 363.8 107.5 350.1 112.3 342.6C117.2 335.2 131.0 326.7 134.8 323.5M62.9 189.9C64.8 189.1 70.4 184.6 74.1 185.4C77.9 186.1 81.2 193.6 85.4 194.4C89.5 195.1 94.7 191.8 98.8 189.9C103.0 188.0 108.2 184.3 110.1 183.1M473.8 349.4C475.6 349.4 481.6 350.5 485.0 349.4C488.4 348.3 491.4 344.3 494.0 342.6C496.6 341.0 493.6 339.8 500.7 339.3C507.8 338.7 530.7 339.3 536.7 339.3M471.5 331.4C467.8 333.3 453.2 336.5 449.1 342.6C444.9 348.7 447.2 363.8 446.8 368.0M377.2 251.7C375.7 251.7 371.0 251.5 368.2 251.7C365.4 251.9 362.9 248.1 360.3 252.8C357.7 257.5 353.8 275.3 352.5 279.7M610.8 149.5C614.5 149.1 627.7 149.1 633.3 147.2C638.9 145.3 640.8 137.5 644.5 138.2C648.2 139.0 653.9 149.5 655.7 151.7M363.7 355.0C361.1 354.1 352.1 350.3 348.0 349.4C343.9 348.4 342.0 348.6 339.0 349.4C336.0 350.1 331.5 353.1 330.0 353.9M363.7 355.0C366.3 355.2 374.9 354.0 379.4 356.1C383.9 358.3 388.8 366.0 390.7 368.0M166.2 457.9C168.9 456.7 176.7 454.9 182.0 451.1C187.2 447.4 192.8 441.0 197.7 435.4C202.6 429.8 207.4 423.0 211.2 417.4C214.9 411.8 217.2 404.7 220.2 401.7C223.1 398.7 227.6 399.8 229.1 399.5M166.2 457.9C165.9 459.7 163.8 464.6 164.0 469.1C164.2 473.6 167.7 479.2 167.4 484.8C167.0 490.4 164.9 497.5 161.7 502.8C158.6 508.0 150.5 514.0 148.3 516.3M89.9 570.2C95.1 569.1 113.8 564.9 121.3 563.4C128.8 561.9 128.8 563.8 134.8 561.2C140.8 558.6 151.6 551.3 157.3 547.7C162.9 544.2 166.6 541.2 168.5 539.9M330.0 480.3C323.3 481.8 297.2 488.7 289.8 489.3C282.3 489.9 287.7 484.6 285.3 483.7C282.9 482.8 277.2 485.4 275.2 483.7C273.1 482.0 272.0 477.5 272.9 473.6C273.9 469.7 277.2 463.8 280.8 460.1C284.4 456.4 291.7 455.2 294.3 451.1C296.9 447.0 294.3 438.8 296.5 435.4C298.8 432.0 303.3 433.1 307.8 430.9C312.3 428.7 320.9 423.4 323.5 421.9M275.2 483.7C276.5 487.2 282.9 495.9 283.1 505.0C283.2 514.2 278.6 527.9 276.3 538.7C274.1 549.6 271.1 561.2 269.6 570.2C268.1 579.2 268.4 587.8 267.3 592.6C266.2 597.5 263.2 595.2 262.8 599.4C262.5 603.6 264.7 614.9 265.1 618.0M283.1 514.0 L330.0 527.5M6.7 368.0C10.1 370.6 19.5 371.0 27.0 383.7C34.4 396.5 47.5 434.3 51.7 444.4M110.1 424.2C110.4 426.8 113.1 434.3 112.3 439.9C111.6 445.5 107.5 453.7 105.6 457.9C103.7 462.0 101.8 463.5 101.1 464.6M599.6 532.0 L660.0 532.0M490.6 398.3C493.2 399.3 499.8 403.6 506.3 403.9C512.9 404.3 524.9 400.8 529.9 400.6C535.0 400.4 531.1 402.6 536.7 402.8C542.3 403.0 557.5 400.8 563.6 401.7C569.8 402.6 572.1 407.3 573.7 408.4M480.5 433.1C481.6 433.9 483.1 438.0 487.3 437.6C491.4 437.3 498.5 432.8 505.2 430.9C512.0 429.0 522.4 428.1 527.7 426.4C532.9 424.7 536.3 421.9 536.7 420.8C537.0 419.7 535.5 421.7 529.9 419.7C524.3 417.6 509.3 409.6 503.0 408.4C496.6 407.3 495.1 411.1 491.7 412.9C488.4 414.8 484.3 418.5 482.8 419.7M330.0 528.6C331.5 529.2 334.9 529.6 339.0 532.0C343.1 534.4 351.0 539.5 354.7 543.2C358.5 547.0 361.5 550.1 361.5 554.5C361.5 558.8 355.8 566.6 354.7 569.1M536.7 402.8 L535.5 420.8M568.1 575.8C565.9 571.9 559.5 554.3 554.6 552.2C549.8 550.1 542.7 563.8 538.9 563.4C535.2 563.1 534.8 556.3 532.2 550.0C529.6 543.6 525.1 530.9 523.2 525.3C521.3 519.6 521.3 517.8 520.9 516.3M505.2 529.7C506.0 530.9 506.0 533.9 509.7 536.5C513.5 539.1 523.9 543.2 527.7 545.5C531.4 547.7 531.4 549.2 532.2 550.0M471.5 545.5C474.1 545.1 483.1 544.3 487.3 543.2C491.4 542.1 492.5 539.9 496.2 538.7C500.0 537.6 507.5 536.9 509.7 536.5M103.3 618.0C107.8 625.1 124.7 646.8 130.3 660.7C135.9 674.5 135.5 690.3 137.0 701.1C138.5 712.0 138.2 716.5 139.3 725.8C140.4 735.2 142.3 746.8 143.8 757.3C145.3 767.8 149.8 779.7 148.3 788.7C146.8 797.7 137.0 798.0 134.8 811.2C132.5 824.4 134.8 858.6 134.8 868.0M206.7 636.0C209.7 639.3 218.7 649.5 224.6 656.2C230.6 662.9 237.0 670.0 242.6 676.4C248.2 682.8 250.5 686.9 258.3 694.4C266.2 701.9 282.7 713.8 289.8 721.3C296.9 728.8 299.2 733.7 301.0 739.3C302.9 744.9 298.0 750.2 301.0 755.0C304.0 759.9 314.2 764.4 319.0 768.5C323.8 772.6 328.2 777.9 330.0 779.7M83.1 743.8C84.6 742.3 88.7 738.2 92.1 734.8C95.5 731.4 99.2 729.2 103.3 723.6C107.5 718.0 112.3 707.5 116.8 701.1C121.3 694.8 123.6 689.5 130.3 685.4C137.0 681.3 149.8 679.6 157.3 676.4C164.7 673.2 172.2 668.0 175.2 666.3M103.3 723.6C105.6 725.8 113.1 734.3 116.8 737.1C120.6 739.9 122.1 740.8 125.8 740.4C129.5 740.1 134.0 737.4 139.3 734.8C144.5 732.2 152.9 726.2 157.3 724.7C161.6 723.2 163.8 725.6 165.1 725.8M165.1 719.1C168.3 719.1 180.3 719.8 184.2 719.1C188.1 718.3 185.7 715.5 188.7 714.6C191.7 713.7 197.7 712.4 202.2 713.5C206.7 714.6 210.0 716.3 215.7 721.3C221.3 726.4 227.6 735.2 235.9 743.8C244.1 752.4 255.0 764.0 265.1 773.0C275.2 782.0 285.7 790.6 296.5 797.7C307.3 804.8 324.4 812.7 330.0 815.7M170.7 788.7C173.0 791.3 181.6 800.3 184.2 804.5C186.8 808.6 183.5 810.8 186.5 813.4C189.4 816.1 197.3 816.1 202.2 820.2C207.0 824.3 210.4 834.0 215.7 838.2C220.9 842.3 229.1 839.9 233.6 844.9C238.1 849.9 241.1 864.2 242.6 868.0M330.0 820.2C326.7 822.1 318.2 829.2 310.0 831.4C301.8 833.7 291.3 830.7 280.8 833.7C270.3 836.7 253.5 843.7 247.1 849.4C240.7 855.1 243.4 864.9 242.6 868.0M83.1 766.3C85.0 767.0 91.4 768.1 94.4 770.8C97.3 773.4 98.1 779.0 101.1 782.0C104.1 785.0 108.2 783.9 112.3 788.7C116.4 793.6 120.6 804.5 125.8 811.2C131.0 817.9 140.0 823.9 143.8 829.2C147.5 834.4 147.5 840.4 148.3 842.6M114.6 701.1 L157.3 701.1M0.0 622.5C3.7 624.0 20.2 626.2 22.5 631.5C24.7 636.7 17.2 646.5 13.5 653.9C9.7 661.4 2.2 672.7 0.0 676.4M0.0 703.4C3.0 704.9 11.2 715.0 18.0 712.4C24.7 709.7 36.7 691.8 40.4 687.6M428.8 618.0C428.1 621.4 424.2 633.5 424.4 638.2C424.5 642.9 430.7 645.7 430.0 646.1C429.2 646.5 423.8 641.4 419.9 640.5C415.9 639.5 408.6 640.5 406.4 640.5M574.9 704.5C580.9 699.8 603.9 680.5 610.8 676.4C617.7 672.3 621.3 674.0 616.4 679.8C611.6 685.6 588.5 707.1 581.6 711.2C574.7 715.3 576.0 705.6 574.9 704.5M622.0 671.9C625.4 672.9 638.5 676.0 642.3 677.5C646.0 679.0 644.1 680.3 644.5 680.9M613.1 624.7C614.5 624.4 614.2 622.3 622.0 622.5C629.9 622.7 653.7 625.3 660.0 625.9M285.3 1033.7C290.2 1040.1 307.1 1063.3 314.5 1071.9C322.0 1080.5 327.4 1083.2 330.0 1085.4M78.6 1031.5C77.9 1036.3 76.2 1053.6 74.1 1060.7C72.1 1067.8 68.1 1065.4 66.3 1074.2C64.4 1082.9 63.5 1106.6 62.9 1113.0M0.0 934.9C1.1 934.9 4.9 935.6 6.7 934.9C8.6 934.1 9.0 931.3 11.2 930.4C13.5 929.5 16.1 928.5 20.2 929.3C24.3 930.0 31.5 933.8 35.9 934.9C40.4 936.0 45.3 935.8 47.2 936.0M20.2 869.7 L20.2 948.4M0.0 892.2C1.5 891.5 5.6 890.7 9.0 887.7C12.4 884.7 16.8 878.4 20.2 874.2C23.6 870.1 27.7 864.9 29.2 863.0M423.2 863.0 L423.2 1087.6M330.0 961.8C358.1 961.8 466.3 963.0 498.5 961.8C530.7 960.7 514.2 956.2 523.2 955.1C532.2 954.0 547.5 955.1 552.4 955.1M330.0 1020.3C337.5 1019.9 364.4 1019.3 374.9 1018.0C385.4 1016.7 376.4 1013.3 392.9 1012.4C409.4 1011.5 459.9 1011.5 473.8 1012.4C487.6 1013.3 469.3 1017.1 476.0 1018.0C482.8 1018.9 505.6 1019.9 514.2 1018.0C522.8 1016.1 523.2 1010.5 527.7 1006.8C532.2 1003.0 539.7 998.5 541.2 995.5C542.7 992.5 538.9 989.2 536.7 988.8C534.4 988.4 531.8 992.2 527.7 993.3C523.6 994.4 514.6 994.0 512.0 995.5C509.3 997.0 511.2 1000.2 512.0 1002.3C512.7 1004.3 515.7 1007.0 516.5 1007.9M343.5 916.9C343.5 918.8 342.4 923.3 343.5 928.1C344.6 933.0 349.8 940.1 350.2 946.1C350.6 952.1 346.7 951.7 345.7 964.1C344.8 976.4 344.8 1005.3 344.6 1020.3C344.4 1035.2 344.6 1048.3 344.6 1053.9M660.0 1031.5C655.5 1032.6 643.3 1037.5 633.3 1038.2C623.2 1039.0 605.2 1036.3 599.6 1036.0M365.9 863.0C367.8 865.2 374.6 871.2 377.2 876.5C379.8 881.7 379.8 889.6 381.7 894.5C383.5 899.3 387.3 903.8 388.4 905.7M512.0 916.9C513.1 920.3 517.2 930.4 518.7 937.1C520.2 943.9 519.4 951.0 520.9 957.4C522.4 963.7 524.3 969.0 527.7 975.3C531.1 981.7 538.9 992.2 541.2 995.5M352.5 1065.2C353.6 1064.1 356.8 1060.7 359.2 1058.4C361.6 1056.2 365.0 1052.4 367.1 1051.7C369.1 1051.0 370.8 1053.6 371.6 1053.9M579.4 1051.7C580.9 1052.8 581.2 1057.3 588.3 1058.4C595.5 1059.6 610.1 1058.4 622.0 1058.4C634.0 1058.4 653.7 1058.4 660.0 1058.4M464.8 1076.4 L464.8 1113.0M516.5 1070.8C516.5 1068.4 515.0 1059.4 516.5 1056.2C518.0 1053.0 523.9 1052.4 525.4 1051.7M642.3 863.0C642.1 870.5 643.0 894.8 641.1 907.9C639.3 921.0 633.5 929.6 631.0 941.6C628.6 953.6 627.3 973.4 626.5 979.8M583.8 863.0C584.0 870.9 585.7 898.9 585.0 910.2C584.2 921.4 581.4 924.8 579.4 930.4C577.3 936.0 573.7 941.6 572.6 943.9M655.7 988.8C655.4 996.3 652.8 1024.0 653.5 1033.7C654.2 1043.5 658.9 1045.0 660.0 1047.2" fill="none" stroke="#fff" stroke-width="0.9" stroke-opacity="0.72" stroke-linejoin="round" stroke-linecap="round"/>
<path d="M359.4 111.3C354.5 115.2 343.9 126.7 330.0 134.8C316.1 143.0 288.6 152.4 276.3 160.2C264.0 168.1 263.6 174.7 256.1 182.0C248.6 189.3 241.5 197.0 231.4 204.0C221.3 211.0 206.9 216.3 195.4 224.0C184.0 231.8 168.3 246.1 162.9 250.5M0.0 195.5C3.7 194.2 14.4 192.5 22.5 187.6C30.5 182.8 39.7 175.7 48.3 166.3C56.9 156.9 68.7 139.5 74.1 131.5C79.6 123.4 79.7 120.2 80.9 118.0M60.7 118.0C62.9 120.6 67.8 125.7 74.1 133.7C80.5 141.8 94.7 160.9 98.8 166.3M134.8 250.5C136.3 247.5 138.5 237.4 143.8 232.6C149.0 227.7 158.7 225.5 166.2 221.3C173.7 217.2 184.2 208.6 188.7 207.9C193.2 207.1 194.7 212.4 193.2 216.8C191.7 221.3 185.7 229.2 179.7 234.8C173.7 240.4 164.0 246.2 157.3 250.5C150.5 254.8 142.3 259.0 139.3 260.6M0.0 297.7C4.5 301.5 19.1 313.1 27.0 320.2C34.8 327.3 41.9 332.4 47.2 340.4C52.4 348.4 56.5 363.4 58.4 368.0M139.3 157.3C142.3 154.9 150.5 145.7 157.3 142.7C164.0 139.7 172.2 142.0 179.7 139.3C187.2 136.7 197.7 130.5 202.2 127.0C206.7 123.4 205.9 119.5 206.7 118.0M195.4 127.0C199.9 129.6 215.3 139.0 222.4 142.7C229.5 146.5 231.8 148.3 238.1 149.5C244.5 150.6 253.8 147.0 260.6 149.5C267.3 151.9 275.6 161.6 278.6 164.1M161.7 118.0C164.7 121.6 175.2 134.5 179.7 139.3C184.2 144.2 188.0 144.0 188.7 147.2C189.4 150.4 186.8 155.3 184.2 158.4C181.6 161.6 173.7 163.3 173.0 166.3C172.2 169.3 178.6 174.7 179.7 176.4M569.2 115.8 L569.2 383.1M440.1 118.0C438.2 119.9 432.2 125.5 428.8 129.2C425.5 133.0 423.6 136.3 419.9 140.5C416.1 144.6 413.1 148.3 406.4 153.9C399.6 159.6 383.9 170.8 379.4 174.2M422.1 136.0C422.5 138.2 422.9 145.0 424.4 149.5C425.8 153.9 428.1 159.6 431.1 162.9C434.1 166.3 439.0 166.3 442.3 169.7C445.7 173.0 448.9 178.7 451.3 183.1C453.7 187.6 455.1 193.4 456.9 196.6C458.8 199.8 459.9 201.7 462.5 202.2C465.2 202.8 468.0 199.1 472.6 200.0C477.3 200.9 483.3 203.2 490.6 207.9C497.9 212.5 511.4 223.2 516.5 228.1C521.5 232.9 520.2 225.5 520.9 237.1C521.7 248.7 521.7 285.2 520.9 297.7C520.2 310.3 514.6 307.1 516.5 312.3C518.3 317.6 528.1 322.6 532.2 329.2C536.3 335.7 538.5 345.2 541.2 351.6C543.8 358.1 546.0 362.8 547.9 368.0C549.8 373.3 551.6 380.6 552.4 383.1M456.9 196.6C458.2 195.1 461.6 191.0 464.8 187.6C468.0 184.3 472.6 176.6 476.0 176.4C479.4 176.2 481.6 185.0 485.0 186.5C488.4 188.0 491.6 186.3 496.2 185.4C500.9 184.5 508.6 181.3 513.1 180.9C517.6 180.5 520.0 181.5 523.2 183.1C526.4 184.8 529.9 189.5 532.2 191.0C534.4 192.5 534.4 188.9 536.7 192.1C538.9 195.3 544.3 206.4 545.7 210.1C547.0 213.8 546.4 212.4 544.5 214.6C542.7 216.8 539.1 221.0 534.4 223.6C529.7 226.2 521.7 227.5 516.5 230.3C511.2 233.1 507.1 238.4 503.0 240.4C498.9 242.5 494.7 241.0 491.7 242.7C488.7 244.4 487.3 249.2 485.0 250.5C482.8 251.9 480.9 248.3 478.3 250.5C475.6 252.8 471.5 259.9 469.3 264.0C467.0 268.1 466.7 273.0 464.8 275.3C462.9 277.5 460.1 276.0 458.0 277.5C456.0 279.0 454.1 280.9 452.4 284.2C450.7 287.6 450.0 294.7 447.9 297.7C445.9 300.7 441.8 300.3 440.1 302.2C438.4 304.1 439.1 307.1 437.8 308.9C436.5 310.8 433.7 311.4 432.2 313.4C430.7 315.5 430.5 319.4 428.8 321.3C427.2 323.2 424.4 323.2 422.1 324.7C419.9 326.2 421.0 328.8 415.4 330.3C409.7 331.8 394.8 332.3 388.4 333.7C382.0 335.0 379.0 337.4 377.2 338.2M406.4 203.4C411.6 209.7 430.7 232.6 437.8 241.6C444.9 250.5 444.6 252.0 449.1 257.3C453.6 262.5 460.7 267.8 464.8 273.0C468.9 278.2 470.4 283.1 473.8 288.7C477.1 294.3 482.0 303.1 485.0 306.7C488.0 310.3 486.5 309.1 491.7 310.1C497.0 311.0 512.3 311.9 516.5 312.3M536.7 192.1C536.5 189.7 538.5 182.8 535.5 177.5C532.6 172.3 520.4 166.1 518.7 160.7C517.0 155.3 523.6 149.3 525.4 145.0C527.3 140.7 527.3 138.2 529.9 134.8C532.6 131.5 539.1 127.5 541.2 124.7C543.2 121.9 542.1 119.1 542.3 118.0M596.2 176.4C594.1 176.6 587.0 176.4 583.8 177.5C580.7 178.7 578.8 180.7 577.1 183.1C575.4 185.6 575.6 189.7 573.7 192.1C571.9 194.6 569.4 197.0 565.9 197.7C562.3 198.5 555.6 195.7 552.4 196.6C549.2 197.6 547.9 201.1 546.8 203.4C545.7 205.6 544.9 207.5 545.7 210.1C546.4 212.7 548.3 217.4 551.3 219.1C554.3 220.8 558.9 218.2 563.6 220.2C568.3 222.3 573.9 229.2 579.4 231.4C584.8 233.7 593.4 233.3 596.2 233.7M597.3 244.9 L660.0 244.9M660.0 256.2C655.9 257.8 643.0 262.1 635.5 266.3C628.1 270.4 620.4 278.4 615.3 280.9C610.2 283.3 606.9 280.9 605.2 280.9M605.2 297.7C603.1 296.8 596.4 292.3 592.8 292.1C589.3 291.9 588.0 295.7 583.8 296.6C579.7 297.5 574.1 296.4 568.1 297.7C562.1 299.0 553.1 301.6 547.9 304.5C542.7 307.3 540.4 311.9 536.7 314.6C532.9 317.2 527.3 319.2 525.4 320.2M605.2 297.7C607.6 300.0 616.2 307.1 619.8 311.2C623.3 315.3 624.3 320.2 626.5 322.4C628.8 324.7 630.6 322.2 633.3 324.7C635.9 327.1 641.5 332.2 642.3 337.0C643.0 341.9 637.8 348.7 637.8 353.9C637.8 359.0 641.5 365.7 642.3 368.0M447.9 297.7C450.0 300.0 458.2 307.4 460.3 311.2C462.4 314.9 458.4 315.5 460.3 320.2C462.2 324.9 469.3 334.4 471.5 339.3C473.8 344.1 472.6 344.6 473.8 349.4C474.9 354.2 476.8 362.4 478.3 368.0C479.8 373.6 482.0 380.6 482.8 383.1M379.4 234.8C380.9 233.3 385.8 228.4 388.4 225.8C391.0 223.2 390.7 223.2 395.1 219.1C399.6 215.0 410.5 204.7 415.4 201.1C420.2 197.6 421.0 200.0 424.4 197.7C427.7 195.5 431.1 190.1 435.6 187.6C440.1 185.2 448.7 183.9 451.3 183.1M377.2 251.7C379.8 251.5 389.2 249.8 392.9 250.5C396.6 251.3 395.9 254.7 399.6 256.2C403.4 257.7 412.0 257.7 415.4 259.5C418.7 261.4 421.0 265.0 419.9 267.4C418.7 269.8 413.7 272.1 408.6 274.1C403.6 276.2 394.8 278.6 389.5 279.7C384.3 280.9 380.7 281.8 377.2 280.9C373.6 279.9 372.3 274.3 368.2 274.1C364.1 273.9 357.7 276.2 352.5 279.7C347.2 283.3 338.6 287.6 336.7 295.5C334.9 303.3 339.7 319.1 341.2 326.9C342.7 334.8 344.2 338.5 345.7 342.6C347.2 346.8 347.2 349.6 350.2 351.6C353.2 353.7 361.5 354.4 363.7 355.0M419.9 267.4C421.4 268.3 425.8 269.8 428.8 273.0C431.8 276.2 434.6 282.4 437.8 286.5C441.0 290.6 446.3 295.8 447.9 297.7M190.9 368.0C192.8 370.6 196.6 379.2 202.2 383.7C207.8 388.2 217.2 391.2 224.6 395.0C232.1 398.7 239.6 403.4 247.1 406.2C254.6 409.0 260.2 410.1 269.6 411.8C278.9 413.5 294.3 414.6 303.3 416.3C312.3 418.0 319.0 418.7 323.5 421.9C327.9 425.1 328.9 433.1 330.0 435.4M0.0 590.4C4.9 589.6 19.5 587.8 29.2 585.9C38.9 584.0 52.8 578.8 58.4 579.2C64.0 579.5 62.2 586.7 62.9 588.2M258.3 368.0C262.1 368.9 268.9 371.9 280.8 373.6C292.7 375.3 321.8 377.4 330.0 378.1M632.1 465.7C628.6 463.7 617.5 459.0 610.8 453.4C604.1 447.7 594.9 435.6 591.7 432.0M632.1 465.7C634.2 470.4 640.6 485.0 644.5 493.8C648.4 502.6 653.9 514.4 655.7 518.5M330.0 579.2C334.1 577.5 349.1 568.9 354.7 569.1C360.3 569.2 312.8 578.4 363.7 580.3C414.6 582.2 610.6 580.3 660.0 580.3M604.1 517.4C607.1 517.8 616.6 518.3 622.0 519.6C627.5 520.9 630.3 525.1 636.6 525.3C643.0 525.4 656.1 521.5 660.0 520.8M546.8 368.0C547.7 370.1 547.9 373.6 552.4 380.4C556.9 387.1 568.9 403.0 573.7 408.4C578.6 413.9 578.6 410.9 581.6 412.9C584.6 415.0 590.0 419.5 591.7 420.8M527.7 490.4C527.9 488.7 527.9 482.9 528.8 480.3C529.7 477.7 531.4 476.0 533.3 474.7C535.2 473.4 537.8 473.6 540.0 472.5C542.3 471.3 543.0 469.5 546.8 468.0C550.5 466.5 558.6 465.2 562.5 463.5C566.4 461.8 568.7 459.9 570.4 457.9C572.1 455.8 571.1 453.7 572.6 451.1C574.1 448.5 576.5 444.6 579.4 442.1C582.2 439.7 587.8 437.5 589.5 436.5M485.0 481.4C483.9 481.6 480.5 481.4 478.3 482.6C476.0 483.7 475.8 485.8 471.5 488.2C467.2 490.6 459.9 492.7 452.4 497.2C444.9 501.7 433.9 509.7 426.6 515.1C419.3 520.6 413.3 526.7 408.6 529.7C403.9 532.7 403.6 527.9 398.5 533.1C393.5 538.4 382.4 555.4 378.3 561.2C374.2 567.0 377.7 566.6 373.8 567.9C369.9 569.2 357.9 568.9 354.7 569.1M367.1 485.9C368.8 490.2 374.7 506.7 377.2 511.8C379.6 516.8 377.2 514.0 381.7 516.3C386.2 518.5 399.6 523.0 404.1 525.3C408.6 527.5 406.9 525.6 408.6 529.7C410.3 533.9 411.6 544.0 414.2 550.0C416.9 556.0 421.5 560.6 424.4 565.7C427.2 570.7 430.7 575.8 431.1 580.3C431.5 584.8 427.0 586.4 426.6 592.6C426.2 598.9 428.5 613.8 428.8 618.0M367.1 368.0C367.1 370.1 364.1 377.9 367.1 380.4C370.1 382.8 381.7 379.4 385.0 382.6C388.4 385.8 385.2 395.5 387.3 399.5C389.3 403.4 394.6 403.4 397.4 406.2C400.2 409.0 404.7 410.3 404.1 416.3C403.6 422.3 395.7 436.7 394.0 442.1C392.3 447.6 394.0 447.7 394.0 448.9M390.7 368.0C392.2 368.7 394.8 371.7 399.6 372.5C404.5 373.2 411.6 373.2 419.9 372.5C428.1 371.7 442.7 367.3 449.1 368.0C455.4 368.7 454.3 375.1 458.0 377.0C461.8 378.9 467.8 380.7 471.5 379.2C475.3 377.7 479.0 369.9 480.5 368.0M247.1 627.0C240.4 628.5 218.7 629.4 206.7 636.0C194.7 642.5 182.7 658.4 175.2 666.3C167.7 674.2 164.7 678.8 161.7 683.1C158.7 687.5 156.7 686.1 157.3 692.1C157.8 698.1 163.4 709.0 165.1 719.1C166.8 729.2 166.4 741.2 167.4 752.8C168.3 764.4 170.9 777.5 170.7 788.7C170.5 800.0 170.0 811.2 166.2 820.2C162.5 829.2 152.0 834.7 148.3 842.6C144.5 850.6 144.5 863.8 143.8 868.0M0.0 829.2C2.2 826.9 7.1 819.2 13.5 815.7C19.8 812.1 30.3 812.3 38.2 807.8C46.1 803.3 54.3 796.0 60.7 788.7C67.0 781.4 73.8 768.1 76.4 764.0M247.1 627.0 L265.1 618.0M330.0 628.1C332.2 629.4 339.4 631.7 343.5 636.0C347.6 640.3 352.1 649.5 354.7 653.9C357.3 658.4 355.5 660.9 359.2 662.9C362.9 665.0 373.2 664.4 377.2 666.3C381.1 668.2 382.8 671.4 382.8 674.2C382.8 677.0 378.1 680.5 377.2 683.1C376.2 685.8 375.9 686.9 377.2 689.9C378.5 692.9 383.2 697.4 385.0 701.1C386.9 704.9 386.9 709.2 388.4 712.4C389.9 715.5 391.8 718.7 394.0 720.2C396.3 721.7 399.5 718.9 401.9 721.3C404.3 723.8 405.6 730.7 408.6 734.8C411.6 738.9 409.7 744.0 419.9 746.0C430.0 748.1 461.0 747.0 469.3 747.2M377.2 683.1C379.4 683.1 387.3 682.2 390.7 683.1C394.0 684.1 392.9 687.6 397.4 688.8C401.9 689.9 412.7 689.3 417.6 689.9C422.5 690.4 419.9 691.6 426.6 692.1C433.3 692.7 450.2 694.0 458.0 693.3C465.9 692.5 468.5 689.1 473.8 687.6C479.0 686.1 485.4 683.5 489.5 684.3C493.6 685.0 492.9 689.3 498.5 692.1C504.1 694.9 516.8 698.3 523.2 701.1C529.6 703.9 534.4 707.7 536.7 709.0M334.5 698.9C338.6 695.5 353.4 682.2 359.2 678.7C365.0 675.1 366.3 676.8 369.3 677.5C372.3 678.3 375.9 682.2 377.2 683.1M330.0 695.5C330.7 696.1 332.2 694.6 334.5 698.9C336.7 703.2 338.6 714.4 343.5 721.3C348.3 728.3 358.1 736.7 363.7 740.4C369.3 744.2 371.9 743.8 377.2 743.8C382.4 743.8 391.0 740.8 395.1 740.4C399.3 740.1 398.7 740.1 401.9 741.6C405.1 743.1 409.7 747.9 414.2 749.4C418.7 750.9 426.4 750.4 428.8 750.5M430.0 646.1C430.3 648.5 429.8 654.3 432.2 660.7C434.6 667.0 442.3 676.4 444.6 684.3C446.8 692.1 446.3 701.7 445.7 707.9C445.1 714.0 443.8 715.5 441.2 721.3C438.6 727.1 432.0 735.6 430.0 742.7C427.9 749.8 427.7 757.8 428.8 764.0C430.0 770.2 433.3 773.0 436.7 779.7C440.1 786.5 446.6 796.2 449.1 804.5C451.5 812.7 451.3 822.8 451.3 829.2C451.3 835.5 448.7 836.2 449.1 842.6C449.4 849.1 452.8 863.8 453.6 868.0M330.0 817.9C332.6 819.6 338.8 826.2 345.7 828.0C352.7 829.9 361.1 827.9 371.6 829.2C382.0 830.5 400.6 833.7 408.6 835.9C416.7 838.2 415.7 838.2 419.9 842.6C424.0 847.1 429.6 858.6 433.3 862.9C437.1 867.1 440.8 867.2 442.3 868.0M613.1 826.9C611.9 830.3 608.6 840.3 606.3 847.1C604.1 854.0 600.7 864.5 599.6 868.0M471.5 821.3C473.4 821.3 479.4 822.4 482.8 821.3C486.1 820.2 488.0 815.9 491.7 814.6C495.5 813.3 500.7 814.8 505.2 813.4C509.7 812.1 512.0 807.8 518.7 806.7C525.4 805.6 541.2 806.7 545.7 806.7M560.3 766.3 L560.3 868.0M565.9 766.3 L567.0 868.0M549.0 756.2C551.8 758.0 561.2 760.8 565.9 767.4C570.6 773.9 573.7 787.4 577.1 795.5C580.5 803.5 583.8 809.3 586.1 815.7C588.3 822.1 590.6 824.9 590.6 833.7C590.6 842.4 586.8 862.3 586.1 868.0M631.0 692.1C630.3 694.8 626.2 702.6 626.5 707.9C626.9 713.1 630.3 717.6 633.3 723.6C636.3 729.6 640.8 737.4 644.5 743.8C648.2 750.2 653.9 758.8 655.7 761.8M139.3 863.0C140.8 866.4 146.6 874.2 148.3 883.2C149.9 892.2 146.6 907.6 149.4 916.9C152.2 926.3 162.1 931.9 165.1 939.4C168.1 946.9 166.4 953.2 167.4 961.8C168.3 970.5 169.6 983.6 170.7 991.0C171.9 998.5 172.6 1002.7 174.1 1006.8C175.6 1010.9 179.0 1010.9 179.7 1015.8C180.5 1020.6 180.1 1031.5 178.6 1036.0C177.1 1040.5 175.0 1040.8 170.7 1042.7C166.4 1044.6 158.7 1045.3 152.8 1047.2C146.8 1049.1 139.3 1051.0 134.8 1053.9C130.3 1056.9 128.0 1059.6 125.8 1065.2C123.6 1070.8 121.7 1079.7 121.3 1087.6C120.9 1095.6 123.2 1108.8 123.6 1113.0M0.0 997.8C2.2 997.8 9.7 997.0 13.5 997.8C17.2 998.5 6.7 1000.0 22.5 1002.3C38.2 1004.5 93.2 1009.2 107.8 1011.3C122.4 1013.3 105.6 1013.9 110.1 1014.6C114.6 1015.4 126.9 1014.8 134.8 1015.8C142.6 1016.7 151.3 1018.6 157.3 1020.3C163.2 1021.9 166.4 1024.2 170.7 1025.9C175.0 1027.6 178.2 1030.2 183.1 1030.4C188.0 1030.5 197.1 1027.6 199.9 1027.0M0.0 988.8C3.7 992.2 11.2 1001.7 22.5 1009.0C33.7 1016.3 58.0 1028.9 67.4 1032.6C76.8 1036.3 74.9 1033.2 78.6 1031.5C82.4 1029.8 86.5 1025.1 89.9 1022.5C93.2 1019.9 95.5 1017.1 98.8 1015.8C102.2 1014.4 108.2 1014.8 110.1 1014.6M0.0 1041.6C2.2 1041.4 9.7 1041.2 13.5 1040.5C17.2 1039.7 13.5 1038.2 22.5 1037.1C31.5 1036.0 59.9 1034.3 67.4 1033.7M96.6 964.1C98.8 962.8 104.1 956.9 110.1 956.2C116.1 955.6 115.7 959.2 132.5 960.0C149.4 960.9 196.2 962.4 211.2 961.4C226.1 960.4 219.0 954.1 222.4 954.0C225.8 953.9 227.3 959.6 231.4 960.7C235.5 961.8 242.2 961.7 247.1 960.7C252.0 959.7 257.2 954.7 260.6 954.7C264.0 954.7 264.3 959.8 267.3 960.7C270.3 961.6 275.2 960.8 278.6 960.0C281.9 959.3 284.5 956.0 287.5 956.2C290.5 956.4 289.5 960.3 296.5 961.2C303.6 962.0 324.4 961.2 330.0 961.2M158.4 927.0C164.2 926.9 185.1 927.3 193.2 926.6C201.2 925.8 199.2 923.3 206.7 922.5C214.2 921.7 231.4 921.6 238.1 921.9C244.9 922.1 242.2 924.9 247.1 924.1C252.0 923.3 262.6 920.0 267.3 916.9C272.0 913.8 273.5 909.2 275.2 905.7C276.9 902.1 277.1 897.3 277.4 895.6M109.0 1011.3C108.2 1008.3 105.0 999.7 104.5 993.3C103.9 986.9 106.9 977.9 105.6 973.1C104.3 968.2 102.2 968.4 96.6 964.1C91.0 959.8 78.1 952.7 71.9 947.2C65.7 941.8 62.9 933.6 59.5 931.5C56.2 929.5 53.0 934.3 51.7 934.9M258.3 955.1C258.9 960.7 259.8 979.4 261.7 988.8C263.6 998.2 265.8 1007.5 269.6 1011.3C273.3 1015.0 281.7 1007.5 284.2 1011.3C286.6 1015.0 284.2 1030.0 284.2 1033.7M303.3 916.9C304.2 919.9 308.3 926.1 308.9 934.9C309.4 943.7 308.7 962.0 306.6 969.7C304.6 977.4 299.0 977.0 296.5 980.9C294.1 984.9 293.0 986.7 292.0 993.3C291.1 999.8 290.9 1013.1 290.9 1020.3C290.9 1027.4 291.8 1033.4 292.0 1036.0M238.1 863.0C238.3 863.7 237.4 865.4 239.2 867.5C241.1 869.6 245.0 872.5 249.4 875.4C253.7 878.2 262.5 882.8 265.1 884.3M0.0 973.1C2.2 970.8 10.1 963.7 13.5 959.6C16.8 955.5 19.1 950.2 20.2 948.4M660.0 901.2C657.4 901.9 650.5 904.2 644.5 905.7C638.5 907.2 632.5 909.5 624.3 910.2C616.0 910.8 606.7 909.7 595.1 909.7C583.5 909.7 561.4 910.1 554.6 910.2" fill="none" stroke="#fff" stroke-width="1.15" stroke-opacity="0.8" stroke-linejoin="round" stroke-linecap="round"/>
<path d="M365.0 118.4C362.6 120.4 356.3 126.0 350.4 130.4C344.6 134.7 341.6 137.9 330.0 144.3C318.4 150.6 292.4 161.0 280.8 168.5C269.2 176.1 268.1 182.2 260.6 189.4C253.1 196.7 246.0 204.8 235.9 211.9C225.8 219.0 210.8 224.9 199.9 232.1C189.1 239.3 175.6 251.2 170.7 255.0M129.2 115.8C130.9 120.1 134.6 132.9 139.3 141.6C144.0 150.3 150.1 159.6 157.3 167.9C164.4 176.1 174.9 183.1 182.4 191.0C189.9 198.9 195.8 206.5 202.2 215.0C208.5 223.5 214.2 233.0 220.6 242.0C227.0 251.0 234.1 260.3 240.8 269.0C247.6 277.6 253.5 283.6 261.0 293.7C268.5 303.8 277.6 317.2 285.7 329.6C293.9 342.0 306.0 361.6 310.0 368.0M0.0 264.0C2.2 263.3 -9.7 260.5 13.5 260.0C36.7 259.4 116.8 258.1 139.3 260.6C161.7 263.2 144.5 270.9 148.3 275.3C152.0 279.6 154.3 283.7 161.7 286.5C169.2 289.3 184.2 289.5 193.2 292.1C202.2 294.7 209.3 300.1 215.7 302.2C222.0 304.3 228.8 304.1 231.4 304.5M363.7 118.0C364.1 121.0 364.3 130.2 365.9 136.0C367.6 141.8 371.6 146.5 373.8 152.8C376.1 159.2 381.1 168.0 379.4 174.2C377.7 180.3 366.9 185.4 363.7 189.9C360.5 194.4 359.6 197.4 360.3 201.1C361.1 204.9 365.4 208.6 368.2 212.4C371.0 216.1 375.5 217.2 377.2 223.6C378.9 229.9 377.5 244.2 378.3 250.5C379.0 256.9 380.0 258.4 381.7 261.8C383.4 265.1 387.1 267.8 388.4 270.8C389.7 273.8 390.1 275.6 389.5 279.7C389.0 283.9 386.9 291.3 385.0 295.5C383.2 299.6 379.6 297.3 378.3 304.5C377.0 311.6 378.5 330.7 377.2 338.2C375.9 345.6 372.7 346.6 370.4 349.4C368.2 352.2 364.8 354.1 363.7 355.0M58.4 368.0C59.0 372.5 62.2 384.8 61.8 395.0C61.4 405.1 57.8 420.4 56.2 428.7C54.5 436.9 52.2 439.5 51.7 444.4C51.1 449.2 51.3 453.0 52.8 457.9C54.3 462.7 55.2 466.8 60.7 473.6C66.1 480.3 78.6 491.2 85.4 498.3C92.1 505.4 92.1 511.4 101.1 516.3C110.1 521.1 128.0 523.6 139.3 527.5C150.5 531.4 158.0 535.4 168.5 539.9C179.0 544.3 194.7 549.4 202.2 554.5C209.7 559.5 210.0 563.8 213.4 570.2C216.8 576.5 220.2 584.7 222.4 592.6C224.6 600.6 226.1 613.8 226.9 618.0M0.0 475.8C3.0 478.4 10.1 484.1 18.0 491.6C25.8 499.0 41.2 512.9 47.2 520.8C53.2 528.6 52.0 530.5 53.9 538.7C55.8 547.0 56.9 561.9 58.4 570.2C59.9 578.4 59.9 582.2 62.9 588.2C65.9 594.1 71.9 601.1 76.4 606.1C80.9 611.1 87.6 616.0 89.9 618.0M0.0 505.0C3.0 502.8 12.7 496.8 18.0 491.6C23.2 486.3 25.5 478.4 31.5 473.6C37.4 468.7 50.2 464.2 53.9 462.4M58.4 368.0C61.0 370.2 67.8 378.1 74.1 381.5C80.5 384.8 90.2 388.2 96.6 388.2C103.0 388.2 107.8 384.8 112.3 381.5C116.8 378.1 121.7 370.2 123.6 368.0M471.5 618.0C471.5 604.1 472.3 552.3 471.5 534.2C470.8 516.2 467.0 514.8 467.0 509.5C467.0 504.3 470.8 514.2 471.5 502.8C472.3 491.4 470.0 453.0 471.5 441.0C473.0 429.0 478.6 434.5 480.5 430.9C482.4 427.3 481.1 425.1 482.8 419.7C484.4 414.2 491.0 406.9 490.6 398.3C490.2 389.7 482.2 373.1 480.5 368.0M330.0 457.9C333.0 459.4 342.4 466.5 348.0 466.8C353.6 467.2 357.0 463.1 363.7 460.1C370.4 457.1 382.4 450.8 388.4 448.9C394.4 446.9 391.4 446.9 399.6 448.4C407.9 449.9 425.8 454.0 437.8 457.9C449.8 461.7 463.7 467.4 471.5 471.3C479.4 475.3 478.8 479.4 485.0 481.4C491.2 483.5 502.0 482.2 508.6 483.7C515.1 485.2 516.6 489.5 524.3 490.4C532.0 491.4 547.3 488.9 554.6 489.3C561.9 489.7 562.7 489.3 568.1 492.7C573.6 496.0 581.2 505.4 587.2 509.5C593.2 513.6 601.3 516.1 604.1 517.4M247.1 627.0C250.9 629.6 262.1 637.8 269.6 642.7C277.1 647.6 285.3 652.8 292.0 656.2C298.8 659.6 305.5 659.6 310.0 662.9C314.5 666.3 315.7 671.5 319.0 676.4C322.3 681.3 328.2 689.5 330.0 692.1M0.0 780.9C3.0 781.4 12.7 782.2 18.0 784.2C23.2 786.3 26.2 787.6 31.5 793.2C36.7 798.8 43.4 811.9 49.4 817.9C55.4 823.9 61.4 823.9 67.4 829.2C73.4 834.4 77.9 844.5 85.4 849.4C92.9 854.2 105.6 855.3 112.3 858.4C119.1 861.5 123.6 866.4 125.8 868.0M330.0 728.1C330.7 729.9 330.7 731.4 334.5 739.3C338.2 747.2 346.5 762.5 352.5 775.3C358.5 788.0 367.3 804.8 370.4 815.7C373.6 826.5 372.7 834.4 371.6 840.4C370.4 846.4 364.6 847.0 363.7 851.6C362.8 856.2 365.6 865.3 365.9 868.0M449.1 804.5C452.4 803.5 464.4 800.1 469.3 798.8C474.1 797.5 475.6 795.3 478.3 796.6C480.9 797.9 482.8 804.6 485.0 806.7C487.3 808.8 489.1 808.9 491.7 808.9C494.4 808.9 497.0 808.4 500.7 806.7C504.5 805.0 506.7 800.1 514.2 798.8C521.7 797.5 540.4 798.8 545.7 798.8M451.3 829.2C463.3 829.2 507.5 829.7 523.2 829.2C538.9 828.6 530.7 826.2 545.7 825.8C560.6 825.4 601.8 827.7 613.1 826.9C624.3 826.2 605.9 831.2 613.1 821.3C620.2 811.4 648.6 776.4 655.7 767.4M56.2 957.4C61.0 960.7 77.1 973.1 85.4 977.6C93.6 982.1 102.2 983.2 105.6 984.3M199.9 1027.0C206.3 1029.2 224.3 1038.8 238.1 1040.5C252.0 1042.2 275.6 1037.7 283.1 1037.1M556.9 863.0C557.3 873.9 557.3 915.0 559.1 928.1C561.0 941.3 563.6 936.8 568.1 941.6C572.6 946.5 583.1 954.7 586.1 957.4M330.0 915.8C333.7 915.4 345.0 914.3 352.5 913.5C360.0 912.8 368.9 912.6 374.9 911.3C380.9 910.0 373.4 906.8 388.4 905.7C403.4 904.6 450.9 906.4 464.8 904.6C478.6 902.7 470.0 899.5 471.5 894.5C473.0 889.4 474.1 879.5 473.8 874.2C473.4 869.0 470.0 864.9 469.3 863.0M464.8 904.6C466.3 906.2 470.4 911.7 473.8 914.7C477.1 917.7 480.5 921.2 485.0 922.5C489.5 923.8 496.2 923.5 500.7 922.5C505.2 921.6 503.3 917.9 512.0 916.9C520.6 915.9 545.7 916.5 552.4 916.5M485.0 922.5C484.8 926.5 482.8 939.9 483.9 946.1C485.0 952.3 490.1 947.2 491.7 959.6C493.4 972.0 494.7 1006.4 494.0 1020.3C493.2 1034.1 490.6 1035.2 487.3 1042.7C483.9 1050.2 479.0 1057.3 473.8 1065.2C468.5 1073.0 460.3 1083.9 455.8 1089.9C451.3 1095.9 448.7 1097.3 446.8 1101.1C444.9 1105.0 444.9 1111.0 444.6 1113.0" fill="none" stroke="#fff" stroke-width="1.5" stroke-opacity="0.92" stroke-linejoin="round" stroke-linecap="round"/>
<path d="M98.8 166.3C105.6 175.1 128.0 204.7 139.3 219.1C150.5 233.5 158.0 244.2 166.2 252.8C174.5 261.4 181.2 266.6 188.7 270.8C196.2 274.9 204.4 274.5 211.2 277.5C217.9 280.5 225.0 284.2 229.1 288.7C233.3 293.2 235.1 297.0 235.9 304.5C236.6 311.9 231.8 325.4 233.6 333.7C235.5 341.9 243.0 348.1 247.1 353.9C251.2 359.6 256.5 365.7 258.3 368.0M0.0 469.1C4.9 468.7 20.2 468.0 29.2 466.8C38.2 465.7 45.7 463.5 53.9 462.4C62.2 461.2 70.8 459.7 78.6 460.1C86.5 460.5 97.3 463.8 101.1 464.6M363.7 466.8C364.8 468.7 366.3 473.6 370.4 478.1C374.6 482.6 381.3 488.2 388.4 493.8C395.5 499.4 407.1 508.2 413.1 511.8C419.1 515.3 417.6 514.8 424.4 515.1C431.1 515.5 447.2 513.5 453.6 514.0C459.9 514.6 460.3 516.6 462.5 518.5C464.8 520.4 465.5 522.6 467.0 525.3C468.5 527.9 470.8 518.8 471.5 534.2C472.3 549.7 471.5 604.1 471.5 618.0M567.0 618.0C565.9 622.5 563.8 637.1 560.3 645.0C556.7 652.8 548.5 659.6 545.7 665.2C542.8 670.8 544.9 670.8 543.4 678.7C541.9 686.5 536.9 703.0 536.7 712.4C536.5 721.7 540.8 728.1 542.3 734.8C543.8 741.6 545.1 749.8 545.7 752.8M112.3 863.0C115.3 865.2 122.8 871.8 130.3 876.5C137.8 881.2 151.3 888.5 157.3 891.1C163.2 893.7 161.7 892.8 166.2 892.2C170.7 891.6 178.2 889.6 184.2 887.7C190.2 885.8 195.8 881.5 202.2 881.0C208.5 880.4 211.9 883.8 222.4 884.3C232.9 884.9 255.9 882.5 265.1 884.3C274.3 886.2 272.9 893.0 277.4 895.6C281.9 898.2 285.9 897.3 292.0 900.1C298.2 902.9 308.2 909.9 314.5 912.4C320.8 914.9 327.4 914.7 330.0 915.1" fill="none" stroke="#fff" stroke-width="1.8" stroke-opacity="0.95" stroke-linejoin="round" stroke-linecap="round"/>
<path d="M610.8 115.8C610.8 121.4 612.7 141.2 610.8 149.5C608.9 157.7 602.0 160.7 599.6 165.2C597.1 169.7 596.6 163.3 596.2 176.4C595.8 189.5 595.8 228.8 597.3 243.8C598.8 258.8 603.9 257.3 605.2 266.3C606.5 275.3 606.1 288.7 605.2 297.7C604.3 306.7 600.5 308.5 599.6 320.2C598.6 331.9 599.6 357.5 599.6 368.0C599.6 378.5 599.6 380.6 599.6 383.1M600.7 365.8C601.1 368.7 602.9 377.7 602.9 383.7C602.9 389.7 602.6 395.5 600.7 401.7C598.8 407.9 593.6 412.6 591.7 420.8C589.8 429.0 589.1 442.7 589.5 451.1C589.8 459.5 591.0 464.8 594.0 471.3C597.0 477.9 604.8 485.2 607.4 490.4C610.1 495.7 610.2 498.3 609.7 502.8C609.1 507.3 605.9 512.9 604.1 517.4C602.2 521.9 600.9 524.3 598.4 529.7C596.0 535.2 594.5 542.3 589.5 550.0C584.4 557.6 571.7 561.9 568.1 575.8C564.6 589.6 568.1 623.5 568.1 633.1M660.0 484.8C655.5 487.8 640.3 498.3 633.3 502.8C626.2 507.3 622.4 509.3 617.5 511.8C612.7 514.2 606.3 516.5 604.1 517.4M660.0 444.4C657.8 445.1 651.4 445.3 646.7 448.9C642.1 452.4 634.6 462.9 632.1 465.7M656.9 368.0C656.5 380.7 654.1 429.4 654.6 444.4C655.1 459.4 659.1 455.6 660.0 457.9M667.0 676.9C661.0 679.6 642.3 686.2 631.0 693.3C619.8 700.3 610.1 710.7 599.6 719.1C589.1 727.5 577.1 737.8 568.1 743.8C559.1 749.8 549.4 753.2 545.7 755.0M469.7 615.8C469.7 649.1 469.4 780.1 469.7 815.7C470.0 851.3 471.2 820.4 471.5 829.2C471.8 837.9 471.5 860.2 471.5 868.0C471.5 875.9 471.5 875.0 471.5 876.3M608.6 984.3C610.8 983.5 613.5 980.1 622.0 979.4C630.6 978.6 653.7 979.7 660.0 979.8" fill="none" stroke="#fff" stroke-width="2.2" stroke-opacity="0.97" stroke-linejoin="round" stroke-linecap="round"/>
<path d="M133.7 115.8C135.3 119.9 139.1 132.2 143.8 140.5C148.5 148.7 154.6 157.3 161.7 165.2C168.9 173.0 179.0 179.8 186.5 187.6C193.9 195.5 200.3 203.7 206.7 212.4C213.0 221.0 218.3 230.3 224.6 239.3C231.0 248.3 238.1 257.7 244.9 266.3C251.6 274.9 257.6 280.9 265.1 291.0C272.6 301.1 281.6 314.1 289.8 326.9C298.0 339.8 308.9 358.7 314.5 368.0C320.1 377.4 322.0 380.6 323.5 383.1M365.0 113.5C362.1 115.9 352.9 123.8 347.1 128.1C341.2 132.4 341.4 133.4 330.0 139.3C318.6 145.3 290.5 156.4 278.6 164.1C266.6 171.7 265.8 178.1 258.3 185.4C250.9 192.7 243.7 200.7 233.6 207.9C223.5 215.0 208.9 220.6 197.7 228.1C186.5 235.6 173.3 245.7 166.2 252.8C159.1 259.9 158.7 262.5 155.0 270.8C151.3 279.0 147.5 291.0 143.8 302.2C140.0 313.4 135.9 327.2 132.5 338.2C129.2 349.1 125.8 360.5 123.6 368.0C121.3 375.5 119.8 380.6 119.1 383.1M125.8 361.3C123.6 367.3 116.8 384.8 112.3 397.2C107.8 409.6 103.0 423.4 98.8 435.4C94.7 447.4 90.2 459.4 87.6 469.1C85.0 478.8 83.7 484.4 83.1 493.8C82.6 503.2 83.3 514.0 84.2 525.3C85.2 536.5 88.4 551.5 88.7 561.2C89.1 570.9 88.9 576.9 86.5 583.7C84.1 590.4 78.4 595.9 74.1 601.6C69.8 607.4 64.0 613.9 60.7 618.0C57.3 622.1 55.0 625.0 53.9 626.3M325.5 377.0C328.5 381.9 338.6 397.2 343.5 406.2C348.3 415.2 351.9 421.2 354.7 430.9C357.5 440.6 359.2 451.9 360.3 464.6C361.5 477.3 360.5 496.4 361.5 507.3C362.4 518.1 362.9 520.8 365.9 529.7C368.9 538.7 375.7 550.7 379.4 561.2C383.2 571.7 386.0 583.2 388.4 592.6C390.8 602.1 392.5 611.3 394.0 618.0C395.5 624.8 396.8 630.6 397.4 633.1M65.1 611.3C61.8 615.0 49.8 627.0 44.9 633.7C40.1 640.5 37.8 645.7 35.9 651.7C34.1 657.7 32.9 663.7 33.7 669.7C34.4 675.7 36.7 680.2 40.4 687.6C44.2 695.1 50.9 706.0 56.2 714.6C61.4 723.2 67.8 732.2 71.9 739.3C76.0 746.4 79.2 751.3 80.9 757.3C82.6 763.3 82.7 769.3 82.0 775.3C81.2 781.2 79.9 786.5 76.4 793.2C72.8 800.0 65.5 808.9 60.7 815.7C55.8 822.4 50.4 827.7 47.2 833.7C44.0 839.6 42.7 845.9 41.6 851.6C40.4 857.4 40.6 863.9 40.4 868.0C40.2 872.1 40.4 875.0 40.4 876.3M392.9 611.3C394.0 616.9 396.3 633.7 399.6 645.0C403.0 656.2 408.3 668.5 413.1 678.7C418.0 688.8 422.5 698.1 428.8 705.6C435.2 713.1 442.3 718.3 451.3 723.6C460.3 728.8 472.3 733.7 482.8 737.1C493.2 740.4 507.1 741.2 514.2 743.8C521.3 746.4 521.7 748.3 525.4 752.8C529.2 757.3 533.3 764.4 536.7 770.8C540.0 777.1 543.6 782.7 545.7 791.0C547.7 799.2 548.1 807.3 549.0 820.2C550.0 833.0 550.9 858.7 551.3 868.0C551.6 877.4 551.3 875.0 551.3 876.3M667.0 673.0C661.3 675.5 643.4 682.2 633.3 687.6C623.2 693.1 615.3 698.9 606.3 705.6C597.3 712.4 588.0 721.3 579.4 728.1C570.7 734.8 560.6 741.2 554.6 746.0C548.7 750.9 546.0 753.2 543.4 757.3C540.8 761.4 539.1 765.5 538.9 770.8C538.7 776.0 540.6 783.1 542.3 788.7C544.0 794.3 547.9 801.8 549.0 804.5M40.4 856.3C40.4 864.1 39.3 891.1 40.4 903.4C41.6 915.8 44.9 922.2 47.2 930.4C49.4 938.6 52.6 945.4 53.9 952.9C55.2 960.3 56.0 967.1 55.0 975.3C54.1 983.6 51.1 992.2 48.3 1002.3C45.5 1012.4 41.4 1025.5 38.2 1036.0C35.0 1046.5 32.0 1054.7 29.2 1065.2C26.4 1075.7 23.0 1090.9 21.3 1098.9C19.7 1106.9 19.7 1109.3 19.1 1113.0C18.5 1116.8 18.2 1120.0 18.0 1121.3M-4.5 947.2C1.1 947.1 19.8 945.2 29.2 946.1C38.6 947.1 44.2 949.5 51.7 952.9C59.2 956.2 65.1 961.5 74.1 966.3C83.1 971.2 91.7 977.8 105.6 982.1C119.4 986.4 146.0 989.2 157.3 992.2C168.5 995.2 167.7 996.5 173.0 1000.0C178.2 1003.6 183.8 1009.8 188.7 1013.5C193.6 1017.3 196.2 1019.7 202.2 1022.5C208.2 1025.3 217.5 1028.1 224.6 1030.4C231.8 1032.6 236.6 1035.8 244.9 1036.0C253.1 1036.2 267.3 1031.9 274.1 1031.5C280.8 1031.1 281.2 1031.5 285.3 1033.7C289.4 1036.0 293.9 1041.6 298.8 1045.0C303.6 1048.3 309.3 1051.9 314.5 1053.9C319.7 1056.0 326.3 1056.6 330.0 1057.3C333.7 1058.0 335.8 1057.9 337.0 1058.0M551.3 856.3C551.5 863.0 551.8 884.7 552.4 896.7C553.0 908.7 553.1 921.0 554.6 928.1C556.1 935.3 557.6 935.3 561.4 939.4C565.1 943.5 571.5 948.0 577.1 952.9C582.7 957.7 589.8 963.3 595.1 968.6C600.3 973.8 605.6 978.7 608.6 984.3C611.6 989.9 612.7 996.3 613.1 1002.3C613.4 1008.3 613.1 1014.6 610.8 1020.3C608.6 1025.9 604.8 1030.7 599.6 1036.0C594.3 1041.2 585.7 1046.8 579.4 1051.7C573.0 1056.6 566.1 1061.1 561.4 1065.2C556.7 1069.3 553.3 1071.9 551.3 1076.4C549.2 1080.9 549.6 1086.0 549.0 1092.1C548.5 1098.2 548.1 1108.2 547.9 1113.0C547.7 1117.9 547.9 1120.0 547.9 1121.3M325.5 1058.4C330.4 1058.8 346.5 1058.4 354.7 1060.7C362.9 1062.9 367.1 1067.8 374.9 1071.9C382.8 1076.0 393.6 1082.4 401.9 1085.4C410.1 1088.4 415.4 1088.8 424.4 1089.9C433.3 1091.0 446.8 1092.5 455.8 1092.1C464.8 1091.8 471.2 1089.9 478.3 1087.6C485.4 1085.4 492.1 1081.5 498.5 1078.7C504.8 1075.8 510.8 1072.5 516.5 1070.8C522.1 1069.1 525.8 1068.9 532.2 1068.5C538.5 1068.2 547.9 1067.4 554.6 1068.5C561.4 1069.7 567.0 1073.6 572.6 1075.3C578.2 1077.0 573.8 1078.1 588.3 1078.7C602.9 1079.2 646.9 1078.7 660.0 1078.7C673.1 1078.7 665.8 1078.7 667.0 1078.7" fill="none" stroke="#fdfdfe" stroke-width="3.1" stroke-opacity="1.0" stroke-linejoin="round" stroke-linecap="round"/></svg>
<span class="t" style="left:138.00px;top:607px;font-size:12.6px;font-weight:700;color:#303030;transform:scaleX(0.8683);text-shadow:0 0 1.5px #fff,0 0 1.5px #fff,0 0 2px #fff,0 0 2px #fff;">RM Clayton Water</span>
<span class="t" style="left:128.40px;top:622px;font-size:12.6px;font-weight:700;color:#303030;transform:scaleX(0.8687);text-shadow:0 0 1.5px #fff,0 0 1.5px #fff,0 0 2px #fff,0 0 2px #fff;">Reclamation Center</span>
<div class="abs" style="left:237.5px;top:616.7px;width:9.6px;height:9.6px;border-radius:50%;background:#f5860f;box-shadow:0 0 0 1px #5a4a3a;"></div>
<span class="t" style="left:131.00px;top:837px;font-size:11.8px;font-weight:400;color:#b3b5b9;transform:scaleX(0.9387);">Carey Park</span>
<span class="t" style="left:480.06px;top:885px;font-size:11px;font-weight:400;color:#8d9096;transform:scaleX(0.9500);-webkit-text-stroke:0.3px #8d9096;">Georgia Institute</span>
<span class="t" style="left:486.25px;top:899px;font-size:11px;font-weight:400;color:#8d9096;transform:scaleX(0.9500);-webkit-text-stroke:0.3px #8d9096;">of Technology</span>
<span class="t" style="left:419.47px;top:961px;font-size:11.8px;font-weight:400;color:#b6b8bc;transform:scaleX(0.9400);">English Avenue</span>
<span class="t" style="left:424.71px;top:974px;font-size:11.8px;font-weight:400;color:#b6b8bc;transform:scaleX(0.9400);">and Vine City</span>
<span class="t" style="left:523.60px;top:1036px;font-size:19.6px;font-weight:400;color:#6a6f7c;transform:scaleX(1.0193);">Atlanta</span>
<svg width="100" height="1113" viewBox="0 0 100 1113"><circle cx="10.6" cy="1102.4" r="9" fill="#fff" stroke="#a9abad" stroke-width="1.3"/>
<path d="M6.6 1106.6q-1.6-5 2-8.2t7.6-.6q2 5-1.8 7.800t-7.8 1z" fill="#a9abad"/><path d="M11.8 1098.8l.9 2.1l2.1.9l-2.1.9l-.9 2.1l-.9-2.1l-2.1-.9l2.1-.9z" fill="#fff"/></svg>
<span class="t" style="left:23.00px;top:1095px;font-size:15.6px;font-weight:700;color:#fff;transform:scaleX(0.9664);-webkit-text-stroke:1.5px #9fa1a4;paint-order:stroke fill;">mapbox</span>
<div class="abs" style="left:656px;top:118px;width:1344px;height:995px;background:#fff;"></div>
<span class="t" style="left:686.20px;top:154px;font-size:22px;font-weight:700;color:#444;transform:scaleX(0.9481);">RM Clayton, Atlanta, GA</span>
<span class="t" style="left:686.20px;top:180px;font-size:15.6px;font-weight:400;color:#444;transform:scaleX(0.9437);-webkit-text-stroke:0.2px #444;">RM Clayton Water Reclamation Center</span>
<span class="t" style="left:686.20px;top:197px;font-size:15.6px;font-weight:400;color:#999;transform:scaleX(0.9442);-webkit-text-stroke:0.2px #999;">Fulton County</span>
<span class="t" style="left:686.20px;top:215px;font-size:15.6px;font-weight:400;color:#999;transform:scaleX(0.9494);-webkit-text-stroke:0.2px #999;">Population served: 94,000</span>
<svg width="2000" height="1113" viewBox="0 0 2000 1113"><path d="M1271.5 258.6l3.6 3.9l-3.6 3.9" fill="none" stroke="#2a48ad" stroke-width="1.8" stroke-linecap="round" stroke-linejoin="round"/>
<rect x="742.4" y="282.8" width="533.5" height="254.9" rx="2" fill="#fff" stroke="#7e7e7e" stroke-width="1.3"/>
<path d="M809.4 537.7v5.6" stroke="#7e7e7e" stroke-width="1.1"/>
<path d="M983.5 537.7v5.6" stroke="#7e7e7e" stroke-width="1.1"/>
<path d="M1163.5 537.7v5.6" stroke="#7e7e7e" stroke-width="1.1"/>
<circle cx="797.8" cy="536.3" r="1.9" fill="#555"/>
<circle cx="809.4" cy="536.3" r="1.9" fill="#555"/>
<circle cx="821.0" cy="536.3" r="1.9" fill="#555"/>
<circle cx="838.4" cy="536.3" r="1.9" fill="#555"/>
<circle cx="850.0" cy="536.3" r="1.9" fill="#555"/>
<circle cx="879.1" cy="536.3" r="1.9" fill="#555"/>
<circle cx="890.7" cy="536.3" r="1.9" fill="#555"/>
<circle cx="902.3" cy="536.3" r="1.9" fill="#555"/>
<circle cx="919.7" cy="536.3" r="1.9" fill="#555"/>
<circle cx="960.3" cy="536.3" r="1.9" fill="#555"/>
<circle cx="971.9" cy="536.3" r="1.9" fill="#555"/>
<circle cx="983.5" cy="536.3" r="1.9" fill="#555"/>
<circle cx="1001.0" cy="536.3" r="1.9" fill="#555"/>
<circle cx="1012.6" cy="536.3" r="1.9" fill="#555"/>
<circle cx="1024.2" cy="536.3" r="1.9" fill="#555"/>
<circle cx="1041.6" cy="536.3" r="1.9" fill="#555"/>
<circle cx="1053.2" cy="536.3" r="1.9" fill="#555"/>
<circle cx="1064.8" cy="536.3" r="1.9" fill="#555"/>
<circle cx="1082.2" cy="536.3" r="1.9" fill="#555"/>
<circle cx="1093.8" cy="536.3" r="1.9" fill="#555"/>
<circle cx="1105.5" cy="536.3" r="1.9" fill="#555"/>
<circle cx="1134.5" cy="536.3" r="1.9" fill="#555"/>
<circle cx="1140.3" cy="536.3" r="1.9" fill="#555"/>
<circle cx="1151.9" cy="536.3" r="1.9" fill="#555"/>
<circle cx="1175.1" cy="536.3" r="1.9" fill="#555"/>
<circle cx="1186.7" cy="536.3" r="1.9" fill="#555"/>
<circle cx="1204.1" cy="536.3" r="1.9" fill="#555"/>
<circle cx="1215.8" cy="536.3" r="1.9" fill="#555"/>
<circle cx="1227.4" cy="536.3" r="1.9" fill="#555"/>
<polyline points="797.8,434.0 809.4,441.0 821.0,461.3 838.4,485.6 850.0,502.9 879.1,502.9 890.7,496.1 902.3,488.4 919.7,442.4 960.3,403.1 971.9,390.3 983.5,357.1 1001.0,352.2 1012.6,352.3 1024.2,327.4 1041.6,305.9 1053.2,307.8 1064.8,321.1 1082.2,380.9 1093.8,446.6 1105.5,482.8 1134.5,496.8 1140.3,496.8 1151.9,491.9 1175.1,464.1 1186.7,448.2 1204.1,424.9 1215.8,407.3 1227.4,410.8" fill="none" stroke="#ff544c" stroke-width="1.7" stroke-linejoin="miter"/>
<circle cx="742.0" cy="587.7" r="3.85" fill="#ff544c"/>
<path d="M1935.2 258.6l3.6 3.9l-3.6 3.9" fill="none" stroke="#2a48ad" stroke-width="1.8" stroke-linecap="round" stroke-linejoin="round"/>
<rect x="1406.1" y="282.8" width="533.5" height="254.9" rx="2" fill="#fff" stroke="#7e7e7e" stroke-width="1.3"/>
<path d="M1473.1 537.7v5.6" stroke="#7e7e7e" stroke-width="1.1"/>
<path d="M1647.2 537.7v5.6" stroke="#7e7e7e" stroke-width="1.1"/>
<path d="M1827.2 537.7v5.6" stroke="#7e7e7e" stroke-width="1.1"/>
<circle cx="1461.5" cy="536.3" r="1.9" fill="#555"/>
<circle cx="1473.1" cy="536.3" r="1.9" fill="#555"/>
<circle cx="1484.7" cy="536.3" r="1.9" fill="#555"/>
<circle cx="1502.1" cy="536.3" r="1.9" fill="#555"/>
<circle cx="1513.7" cy="536.3" r="1.9" fill="#555"/>
<circle cx="1542.8" cy="536.3" r="1.9" fill="#555"/>
<circle cx="1554.4" cy="536.3" r="1.9" fill="#555"/>
<circle cx="1566.0" cy="536.3" r="1.9" fill="#555"/>
<circle cx="1583.4" cy="536.3" r="1.9" fill="#555"/>
<circle cx="1624.0" cy="536.3" r="1.9" fill="#555"/>
<circle cx="1635.6" cy="536.3" r="1.9" fill="#555"/>
<circle cx="1647.2" cy="536.3" r="1.9" fill="#555"/>
<circle cx="1664.7" cy="536.3" r="1.9" fill="#555"/>
<circle cx="1676.3" cy="536.3" r="1.9" fill="#555"/>
<circle cx="1687.9" cy="536.3" r="1.9" fill="#555"/>
<circle cx="1705.3" cy="536.3" r="1.9" fill="#555"/>
<circle cx="1716.9" cy="536.3" r="1.9" fill="#555"/>
<circle cx="1728.5" cy="536.3" r="1.9" fill="#555"/>
<circle cx="1745.9" cy="536.3" r="1.9" fill="#555"/>
<circle cx="1757.5" cy="536.3" r="1.9" fill="#555"/>
<circle cx="1769.2" cy="536.3" r="1.9" fill="#555"/>
<circle cx="1798.2" cy="536.3" r="1.9" fill="#555"/>
<circle cx="1804.0" cy="536.3" r="1.9" fill="#555"/>
<circle cx="1815.6" cy="536.3" r="1.9" fill="#555"/>
<circle cx="1838.8" cy="536.3" r="1.9" fill="#555"/>
<circle cx="1850.4" cy="536.3" r="1.9" fill="#555"/>
<circle cx="1867.8" cy="536.3" r="1.9" fill="#555"/>
<circle cx="1879.4" cy="536.3" r="1.9" fill="#555"/>
<circle cx="1891.1" cy="536.3" r="1.9" fill="#555"/>
<polyline points="1461.5,306.4 1473.1,349.6 1484.7,372.3 1502.1,429.1 1513.7,452.9 1542.8,461.5 1554.4,484.0 1566.0,460.4 1583.4,432.3 1624.0,389.8 1635.6,402.7 1647.2,337.0 1664.7,330.2 1676.3,348.9 1687.9,415.0 1705.3,388.6 1716.9,438.9 1728.5,475.1 1745.9,508.3 1757.5,508.3 1769.2,517.6 1798.2,518.8 1804.0,523.9 1815.6,523.9 1838.8,506.2 1850.4,506.6 1867.8,501.5 1879.4,494.3 1891.1,513.2" fill="none" stroke="#ff544c" stroke-width="1.7" stroke-linejoin="miter"/>
<circle cx="1405.7" cy="587.7" r="3.85" fill="#ff544c"/>
<path d="M1271.5 648.5l3.6 3.9l-3.6 3.9" fill="none" stroke="#2a48ad" stroke-width="1.8" stroke-linecap="round" stroke-linejoin="round"/>
<rect x="742.4" y="672.7" width="533.5" height="254.9" rx="2" fill="#fff" stroke="#7e7e7e" stroke-width="1.3"/>
<path d="M809.4 927.6v5.6" stroke="#7e7e7e" stroke-width="1.1"/>
<path d="M983.5 927.6v5.6" stroke="#7e7e7e" stroke-width="1.1"/>
<path d="M1163.5 927.6v5.6" stroke="#7e7e7e" stroke-width="1.1"/>
<circle cx="797.8" cy="926.2" r="1.9" fill="#555"/>
<circle cx="809.4" cy="926.2" r="1.9" fill="#555"/>
<circle cx="821.0" cy="926.2" r="1.9" fill="#555"/>
<circle cx="838.4" cy="926.2" r="1.9" fill="#555"/>
<circle cx="850.0" cy="926.2" r="1.9" fill="#555"/>
<circle cx="879.1" cy="926.2" r="1.9" fill="#555"/>
<circle cx="890.7" cy="926.2" r="1.9" fill="#555"/>
<circle cx="902.3" cy="926.2" r="1.9" fill="#555"/>
<circle cx="919.7" cy="926.2" r="1.9" fill="#555"/>
<circle cx="960.3" cy="926.2" r="1.9" fill="#555"/>
<circle cx="971.9" cy="926.2" r="1.9" fill="#555"/>
<circle cx="983.5" cy="926.2" r="1.9" fill="#555"/>
<circle cx="1001.0" cy="926.2" r="1.9" fill="#555"/>
<circle cx="1012.6" cy="926.2" r="1.9" fill="#555"/>
<circle cx="1024.2" cy="926.2" r="1.9" fill="#555"/>
<circle cx="1041.6" cy="926.2" r="1.9" fill="#555"/>
<circle cx="1053.2" cy="926.2" r="1.9" fill="#555"/>
<circle cx="1064.8" cy="926.2" r="1.9" fill="#555"/>
<circle cx="1082.2" cy="926.2" r="1.9" fill="#555"/>
<circle cx="1093.8" cy="926.2" r="1.9" fill="#555"/>
<circle cx="1105.5" cy="926.2" r="1.9" fill="#555"/>
<circle cx="1134.5" cy="926.2" r="1.9" fill="#555"/>
<circle cx="1140.3" cy="926.2" r="1.9" fill="#555"/>
<circle cx="1151.9" cy="926.2" r="1.9" fill="#555"/>
<circle cx="1175.1" cy="926.2" r="1.9" fill="#555"/>
<circle cx="1186.7" cy="926.2" r="1.9" fill="#555"/>
<circle cx="1204.1" cy="926.2" r="1.9" fill="#555"/>
<circle cx="1215.8" cy="926.2" r="1.9" fill="#555"/>
<circle cx="1227.4" cy="926.2" r="1.9" fill="#555"/>
<polyline points="797.8,900.6 809.4,903.6 821.0,906.7 838.4,900.1 850.0,888.9 879.1,900.1 890.7,904.6 902.3,895.5 919.7,900.8 960.3,903.4 971.9,892.4 983.5,892.4 1001.0,831.7 1012.6,739.6 1024.2,695.7 1041.6,766.3 1053.2,766.3 1064.8,832.4 1082.2,885.4 1093.8,917.7 1105.5,923.7 1134.5,925.6 1140.3,925.8 1151.9,925.8 1175.1,919.8 1186.7,915.8 1204.1,912.1 1215.8,910.4 1227.4,910.9" fill="none" stroke="#ff544c" stroke-width="1.7" stroke-linejoin="miter"/>
<circle cx="742.0" cy="977.6" r="3.85" fill="#ff544c"/>
<path d="M1935.2 648.5l3.6 3.9l-3.6 3.9" fill="none" stroke="#2a48ad" stroke-width="1.8" stroke-linecap="round" stroke-linejoin="round"/>
<rect x="1406.1" y="672.7" width="533.5" height="254.9" rx="2" fill="#fff" stroke="#7e7e7e" stroke-width="1.3"/>
<path d="M1473.1 927.6v5.6" stroke="#7e7e7e" stroke-width="1.1"/>
<path d="M1647.2 927.6v5.6" stroke="#7e7e7e" stroke-width="1.1"/>
<path d="M1827.2 927.6v5.6" stroke="#7e7e7e" stroke-width="1.1"/>
<circle cx="1716.9" cy="926.2" r="1.9" fill="#555"/>
<circle cx="1728.5" cy="926.2" r="1.9" fill="#555"/>
<circle cx="1745.9" cy="926.2" r="1.9" fill="#555"/>
<circle cx="1757.5" cy="926.2" r="1.9" fill="#555"/>
<circle cx="1769.2" cy="926.2" r="1.9" fill="#555"/>
<circle cx="1798.2" cy="926.2" r="1.9" fill="#555"/>
<circle cx="1804.0" cy="926.2" r="1.9" fill="#555"/>
<circle cx="1815.6" cy="926.2" r="1.9" fill="#555"/>
<circle cx="1838.8" cy="926.2" r="1.9" fill="#555"/>
<circle cx="1850.4" cy="926.2" r="1.9" fill="#555"/>
<circle cx="1867.8" cy="926.2" r="1.9" fill="#555"/>
<circle cx="1879.4" cy="926.2" r="1.9" fill="#555"/>
<circle cx="1891.1" cy="926.2" r="1.9" fill="#555"/>
<polyline points="1716.9,695.7 1728.5,811.6 1745.9,849.9 1757.5,888.5 1769.2,927.4 1798.2,927.4 1804.0,927.4 1815.6,887.3 1838.8,833.1 1850.4,833.1 1867.8,804.6 1879.4,743.1 1891.1,841.3" fill="none" stroke="#ff544c" stroke-width="1.7" stroke-linejoin="miter"/>
<circle cx="1405.7" cy="977.6" r="3.85" fill="#ff544c"/>
<path d="M1271.5 1038.5l3.6 3.9l-3.6 3.9" fill="none" stroke="#2a48ad" stroke-width="1.8" stroke-linecap="round" stroke-linejoin="round"/>
<rect x="742.4" y="1062.7" width="533.5" height="254.9" rx="2" fill="#fff" stroke="#7e7e7e" stroke-width="1.3"/>
<path d="M809.4 1317.6v5.6" stroke="#7e7e7e" stroke-width="1.1"/>
<path d="M983.5 1317.6v5.6" stroke="#7e7e7e" stroke-width="1.1"/>
<path d="M1163.5 1317.6v5.6" stroke="#7e7e7e" stroke-width="1.1"/>
<path d="M1935.2 1038.5l3.6 3.9l-3.6 3.9" fill="none" stroke="#2a48ad" stroke-width="1.8" stroke-linecap="round" stroke-linejoin="round"/>
<rect x="1406.1" y="1062.7" width="533.5" height="254.9" rx="2" fill="#fff" stroke="#7e7e7e" stroke-width="1.3"/>
<path d="M1473.1 1317.6v5.6" stroke="#7e7e7e" stroke-width="1.1"/>
<path d="M1647.2 1317.6v5.6" stroke="#7e7e7e" stroke-width="1.1"/>
<path d="M1827.2 1317.6v5.6" stroke="#7e7e7e" stroke-width="1.1"/>
<circle cx="1716.9" cy="1316.2" r="1.9" fill="#555"/>
<circle cx="1728.5" cy="1316.2" r="1.9" fill="#555"/>
<polyline points="1716.9,1085.5 1728.5,1152.0" fill="none" stroke="#ff544c" stroke-width="1.7" stroke-linejoin="miter"/></svg>
<span class="t" style="left:723.70px;top:255px;font-size:15.6px;font-weight:700;color:#222;transform:scaleX(0.9132);">SARS-CoV-2</span>
<span class="t" style="left:1232.80px;top:255px;font-size:15.8px;font-weight:400;color:#f5821f;transform:scaleX(0.8343);-webkit-text-stroke:0.55px #f5821f;">Detail</span>
<span class="t" style="left:727.48px;top:534px;font-size:11px;font-weight:400;color:#444;transform:scaleX(1.0000);-webkit-text-stroke:0.2px #444;">0</span>
<span class="t" style="left:715.25px;top:491px;font-size:11px;font-weight:400;color:#444;transform:scaleX(1.0000);-webkit-text-stroke:0.2px #444;">100</span>
<span class="t" style="left:715.25px;top:449px;font-size:11px;font-weight:400;color:#444;transform:scaleX(1.0000);-webkit-text-stroke:0.2px #444;">200</span>
<span class="t" style="left:715.25px;top:406px;font-size:11px;font-weight:400;color:#444;transform:scaleX(1.0000);-webkit-text-stroke:0.2px #444;">300</span>
<span class="t" style="left:715.25px;top:364px;font-size:11px;font-weight:400;color:#444;transform:scaleX(1.0000);-webkit-text-stroke:0.2px #444;">400</span>
<span class="t" style="left:715.25px;top:321px;font-size:11px;font-weight:400;color:#444;transform:scaleX(1.0000);-webkit-text-stroke:0.2px #444;">500</span>
<span class="t" style="left:715.25px;top:279px;font-size:11px;font-weight:400;color:#444;transform:scaleX(1.0000);-webkit-text-stroke:0.2px #444;">600</span>
<span class="t" style="left:784.03px;top:546px;font-size:11px;font-weight:400;color:#444;transform:scaleX(1.0000);-webkit-text-stroke:0.2px #444;">November</span>
<span class="t" style="left:958.18px;top:546px;font-size:11px;font-weight:400;color:#444;transform:scaleX(1.0000);-webkit-text-stroke:0.2px #444;">December</span>
<span class="t" style="left:1151.26px;top:546px;font-size:11px;font-weight:400;color:#444;transform:scaleX(1.0000);-webkit-text-stroke:0.2px #444;">2023</span>
<span class="t" style="left:749.40px;top:582px;font-size:13.8px;font-weight:400;color:#111;transform:scaleX(0.9477);-webkit-text-stroke:0.2px #111;">N Gene - all variants</span>
<span class="t" style="left:1387.40px;top:255px;font-size:15.6px;font-weight:700;color:#222;transform:scaleX(0.9230);">Influenza</span>
<span class="t" style="left:1896.50px;top:255px;font-size:15.8px;font-weight:400;color:#f5821f;transform:scaleX(0.8343);-webkit-text-stroke:0.55px #f5821f;">Detail</span>
<span class="t" style="left:1391.18px;top:534px;font-size:11px;font-weight:400;color:#444;transform:scaleX(1.0000);-webkit-text-stroke:0.2px #444;">0</span>
<span class="t" style="left:1385.06px;top:472px;font-size:11px;font-weight:400;color:#444;transform:scaleX(1.0000);-webkit-text-stroke:0.2px #444;">20</span>
<span class="t" style="left:1385.06px;top:410px;font-size:11px;font-weight:400;color:#444;transform:scaleX(1.0000);-webkit-text-stroke:0.2px #444;">40</span>
<span class="t" style="left:1385.06px;top:348px;font-size:11px;font-weight:400;color:#444;transform:scaleX(1.0000);-webkit-text-stroke:0.2px #444;">60</span>
<span class="t" style="left:1385.06px;top:286px;font-size:11px;font-weight:400;color:#444;transform:scaleX(1.0000);-webkit-text-stroke:0.2px #444;">80</span>
<span class="t" style="left:1447.73px;top:546px;font-size:11px;font-weight:400;color:#444;transform:scaleX(1.0000);-webkit-text-stroke:0.2px #444;">November</span>
<span class="t" style="left:1621.88px;top:546px;font-size:11px;font-weight:400;color:#444;transform:scaleX(1.0000);-webkit-text-stroke:0.2px #444;">December</span>
<span class="t" style="left:1814.96px;top:546px;font-size:11px;font-weight:400;color:#444;transform:scaleX(1.0000);-webkit-text-stroke:0.2px #444;">2023</span>
<span class="t" style="left:1413.10px;top:582px;font-size:13.8px;font-weight:400;color:#111;transform:scaleX(0.9797);-webkit-text-stroke:0.2px #111;">Influenza A</span>
<span class="t" style="left:723.70px;top:645px;font-size:15.6px;font-weight:700;color:#222;transform:scaleX(0.8988);">Respiratory syncytial virus (RSV)</span>
<span class="t" style="left:1232.80px;top:645px;font-size:15.8px;font-weight:400;color:#f5821f;transform:scaleX(0.8343);-webkit-text-stroke:0.55px #f5821f;">Detail</span>
<span class="t" style="left:727.48px;top:924px;font-size:11px;font-weight:400;color:#444;transform:scaleX(1.0000);-webkit-text-stroke:0.2px #444;">0</span>
<span class="t" style="left:721.36px;top:884px;font-size:11px;font-weight:400;color:#444;transform:scaleX(1.0000);-webkit-text-stroke:0.2px #444;">20</span>
<span class="t" style="left:721.36px;top:845px;font-size:11px;font-weight:400;color:#444;transform:scaleX(1.0000);-webkit-text-stroke:0.2px #444;">40</span>
<span class="t" style="left:721.36px;top:806px;font-size:11px;font-weight:400;color:#444;transform:scaleX(1.0000);-webkit-text-stroke:0.2px #444;">60</span>
<span class="t" style="left:721.36px;top:767px;font-size:11px;font-weight:400;color:#444;transform:scaleX(1.0000);-webkit-text-stroke:0.2px #444;">80</span>
<span class="t" style="left:715.25px;top:728px;font-size:11px;font-weight:400;color:#444;transform:scaleX(1.0000);-webkit-text-stroke:0.2px #444;">100</span>
<span class="t" style="left:715.25px;top:688px;font-size:11px;font-weight:400;color:#444;transform:scaleX(1.0000);-webkit-text-stroke:0.2px #444;">120</span>
<span class="t" style="left:784.03px;top:936px;font-size:11px;font-weight:400;color:#444;transform:scaleX(1.0000);-webkit-text-stroke:0.2px #444;">November</span>
<span class="t" style="left:958.18px;top:936px;font-size:11px;font-weight:400;color:#444;transform:scaleX(1.0000);-webkit-text-stroke:0.2px #444;">December</span>
<span class="t" style="left:1151.26px;top:936px;font-size:11px;font-weight:400;color:#444;transform:scaleX(1.0000);-webkit-text-stroke:0.2px #444;">2023</span>
<span class="t" style="left:749.40px;top:972px;font-size:13.8px;font-weight:400;color:#111;transform:scaleX(0.8599);-webkit-text-stroke:0.2px #111;">RSV</span>
<span class="t" style="left:1387.40px;top:645px;font-size:15.6px;font-weight:700;color:#222;transform:scaleX(0.9135);">Human Metapneumovirus</span>
<span class="t" style="left:1896.50px;top:645px;font-size:15.8px;font-weight:400;color:#f5821f;transform:scaleX(0.8343);-webkit-text-stroke:0.55px #f5821f;">Detail</span>
<span class="t" style="left:1391.18px;top:924px;font-size:11px;font-weight:400;color:#444;transform:scaleX(1.0000);-webkit-text-stroke:0.2px #444;">0</span>
<span class="t" style="left:1391.18px;top:866px;font-size:11px;font-weight:400;color:#444;transform:scaleX(1.0000);-webkit-text-stroke:0.2px #444;">5</span>
<span class="t" style="left:1385.06px;top:809px;font-size:11px;font-weight:400;color:#444;transform:scaleX(1.0000);-webkit-text-stroke:0.2px #444;">10</span>
<span class="t" style="left:1385.06px;top:751px;font-size:11px;font-weight:400;color:#444;transform:scaleX(1.0000);-webkit-text-stroke:0.2px #444;">15</span>
<span class="t" style="left:1385.06px;top:694px;font-size:11px;font-weight:400;color:#444;transform:scaleX(1.0000);-webkit-text-stroke:0.2px #444;">20</span>
<span class="t" style="left:1447.73px;top:936px;font-size:11px;font-weight:400;color:#444;transform:scaleX(1.0000);-webkit-text-stroke:0.2px #444;">November</span>
<span class="t" style="left:1621.88px;top:936px;font-size:11px;font-weight:400;color:#444;transform:scaleX(1.0000);-webkit-text-stroke:0.2px #444;">December</span>
<span class="t" style="left:1814.96px;top:936px;font-size:11px;font-weight:400;color:#444;transform:scaleX(1.0000);-webkit-text-stroke:0.2px #444;">2023</span>
<span class="t" style="left:1413.10px;top:972px;font-size:13.8px;font-weight:400;color:#111;transform:scaleX(0.9841);-webkit-text-stroke:0.2px #111;">Human Metapneumovirus</span>
<span class="t" style="left:723.70px;top:1035px;font-size:15.6px;font-weight:700;color:#222;transform:scaleX(0.9207);">Mpox</span>
<span class="t" style="left:1232.80px;top:1035px;font-size:15.8px;font-weight:400;color:#f5821f;transform:scaleX(0.8343);-webkit-text-stroke:0.55px #f5821f;">Detail</span>
<span class="t" style="left:712.19px;top:1081px;font-size:11px;font-weight:400;color:#444;transform:scaleX(1.0000);-webkit-text-stroke:0.2px #444;">0.10</span>
<span class="t" style="left:784.03px;top:1326px;font-size:11px;font-weight:400;color:#444;transform:scaleX(1.0000);-webkit-text-stroke:0.2px #444;">November</span>
<span class="t" style="left:958.18px;top:1326px;font-size:11px;font-weight:400;color:#444;transform:scaleX(1.0000);-webkit-text-stroke:0.2px #444;">December</span>
<span class="t" style="left:1151.26px;top:1326px;font-size:11px;font-weight:400;color:#444;transform:scaleX(1.0000);-webkit-text-stroke:0.2px #444;">2023</span>
<span class="t" style="left:1387.40px;top:1035px;font-size:15.6px;font-weight:700;color:#222;transform:scaleX(0.8958);">Norovirus</span>
<span class="t" style="left:1896.50px;top:1035px;font-size:15.8px;font-weight:400;color:#f5821f;transform:scaleX(0.8343);-webkit-text-stroke:0.55px #f5821f;">Detail</span>
<span class="t" style="left:1363.66px;top:1095px;font-size:11px;font-weight:400;color:#444;transform:scaleX(1.0000);-webkit-text-stroke:0.2px #444;">15,000</span>
<span class="t" style="left:1447.73px;top:1326px;font-size:11px;font-weight:400;color:#444;transform:scaleX(1.0000);-webkit-text-stroke:0.2px #444;">November</span>
<span class="t" style="left:1621.88px;top:1326px;font-size:11px;font-weight:400;color:#444;transform:scaleX(1.0000);-webkit-text-stroke:0.2px #444;">December</span>
<span class="t" style="left:1814.96px;top:1326px;font-size:11px;font-weight:400;color:#444;transform:scaleX(1.0000);-webkit-text-stroke:0.2px #444;">2023</span>
<div class="abs" style="left:0;top:0;width:2000px;height:33px;background:#f3f4f8;"></div>
<div class="abs" style="left:0;top:33px;width:2000px;height:1.3px;background:#fff;"></div>
<div class="abs" style="left:0;top:34.3px;width:2000px;height:83.7px;background:#042f9f;"></div>
<div class="abs" style="left:0;top:118px;width:656px;height:1.2px;background:#0a55c8;"></div>
<span class="t" style="left:18.40px;top:3px;font-size:11.4px;font-weight:400;color:#f5872b;transform:scaleX(0.6889);letter-spacing:3.4px;-webkit-text-stroke:0.45px #f5872b;">WASTEWATER</span>
<svg width="120" height="34" viewBox="0 0 120 34"><g fill="none" stroke="#1c3a93" stroke-width="1.75" stroke-linejoin="miter">
<path d="M34.8 15 H22.2 Q18.8 15 18.8 18.1 Q18.8 21.3 22.2 21.3 H30.6 Q34.2 21.3 34.2 24.6 Q34.2 28 30.6 28 H18.6"/>
<path d="M52.4 15 H43.5 Q38.6 15 38.6 19.5 V23.5 Q38.6 28 43.5 28 H52.4"/>
<path d="M55.4 28.6 L64.6 14.6 L73.8 28.6 M59.6 23 H69.6"/>
<path d="M78.6 28.7 V19.5 Q78.6 15 83.3 15 H89.6 Q94.3 15 94.3 19.5 V28.7"/>
</g></svg>
<svg width="2000" height="34"><g stroke="#fff" stroke-width="4.6" stroke-linecap="round" opacity=".9"><path d="M1962 6.4H1983M1962 13.9H1983M1962 21.3H1983"/></g><g stroke="#0a1f9c" stroke-width="2" stroke-linecap="round"><path d="M1962 6.4H1983M1962 13.9H1983M1962 21.3H1983"/></g></svg>
<span class="t" style="left:23.00px;top:51px;font-size:24px;font-weight:700;color:#fff;transform:scaleX(0.8060);">Welcome to the WastewaterSCAN Dashboard</span>
<span class="t" style="left:23.00px;top:84px;font-size:18.3px;font-weight:400;color:#fff;transform:scaleX(0.9079);-webkit-text-stroke:0.5px #fff;">To view pathogen trends, search or select a location on the map to find your nearest sewershed.</span>
<div class="abs" style="left:734.2px;top:87.9px;width:11.4px;height:11.4px;border-radius:50%;background:#bcc8ea;"></div>
<span class="t" style="left:737.03px;top:89px;font-size:9.4px;font-weight:700;color:#042f9f;transform:scaleX(1.0000);">?</span>
<span class="t" style="left:1888.80px;top:50px;font-size:16.3px;font-weight:700;color:#fff;transform:scaleX(0.7600);-webkit-text-stroke:0.25px #fff;">Chart View</span>
<svg width="2000" height="120"><path d="M1957.4 56.9H1969M1964.7 52L1969.7 56.9L1964.7 61.8" fill="none" stroke="#fff" stroke-width="2.4" stroke-linecap="round" stroke-linejoin="round"/></svg>
<div class="abs" style="left:24.8px;top:133.8px;width:112px;height:32px;background:#fff;border-radius:4px;box-shadow:0 0 9px 2px rgba(30,40,90,.075);"></div>
<svg width="200" height="200"><path d="M36.7 146.1L32.7 150L36.7 153.9" fill="none" stroke="#2f4db3" stroke-width="1.9" stroke-linecap="round" stroke-linejoin="round"/></svg>
<span class="t" style="left:41.20px;top:143px;font-size:16px;font-weight:400;color:#f5821f;transform:scaleX(0.8111);-webkit-text-stroke:0.45px #f5821f;">Back to Search</span>
<div class="abs" style="left:1945.7px;top:118px;width:22.4px;height:18px;overflow:hidden;"><div style="position:absolute;left:0;top:-4.5px;width:22.4px;height:22.4px;border-radius:50%;background:#042f9f;"></div></div>
<svg width="2000" height="140"><path d="M1952 119.8L1961.8 129.6M1961.8 119.8L1952 129.6" stroke="#fff" stroke-width="1.4" stroke-linecap="round"/></svg>
<div class="abs" style="left:1781.6px;top:151.2px;width:186px;height:36.8px;background:#fff;border-radius:3px;box-shadow:0 1px 11px rgba(60,70,150,.10);"></div>
<span class="t" style="left:1793.30px;top:162px;font-size:16.2px;font-weight:400;color:#000;transform:scaleX(0.9041);-webkit-text-stroke:0.42px #000;">Last 3 months</span>
<svg width="2000" height="200"><path d="M1951.2 167L1957 172.8L1962.8 167" fill="none" stroke="#111" stroke-width="1.3" stroke-linecap="round" stroke-linejoin="round"/></svg>
<div class="abs" style="left:1997px;top:0;width:1.2px;height:34px;background:rgba(255,255,255,.8);"></div>
<div class="abs" style="left:1997px;top:34px;width:1.2px;height:84px;background:rgba(255,255,255,.2);"></div>
<div class="abs" style="left:1998.2px;top:0;width:1.8px;height:1113px;background:#67696b;"></div>
<svg width="2000" height="1113"><path d="M2000 1100V1113H1994.5Q1999.4 1110 1999.2 1100Z" fill="#a9abad"/><path d="M1999.1 1100Q1999.3 1109.5 1995.5 1113" fill="none" stroke="#55575a" stroke-width="1.6"/></svg>
</div>
</body>
</html>
